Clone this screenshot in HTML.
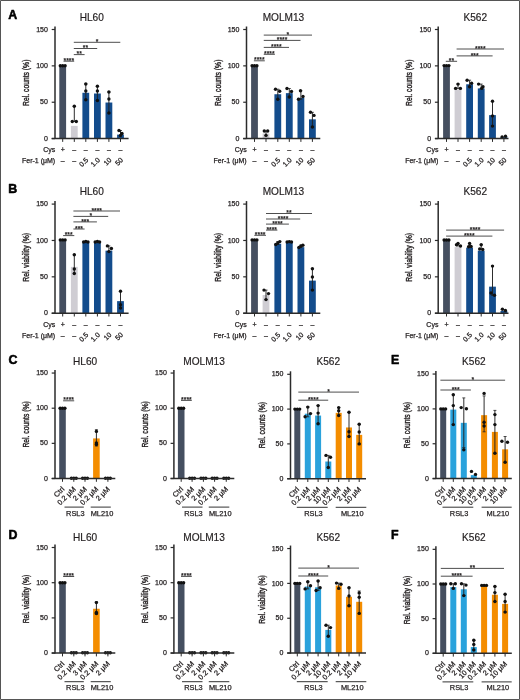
<!DOCTYPE html><html><head><meta charset="utf-8"><style>html,body{margin:0;padding:0;background:#fff;}svg{display:block;will-change:transform;} text{stroke:#231f20;stroke-width:0.25px;} text.t{stroke-width:0.18px;} text.yl{stroke-width:0.4px;} text.L{stroke:#000;stroke-width:0.55px;}</style></head><body>
<svg width="520" height="700" viewBox="0 0 520 700" font-family="Liberation Sans, sans-serif" stroke-linejoin="round">
<rect x="0" y="0" width="520" height="700" fill="#fff"/>
<line x1="55" y1="26.5" x2="55" y2="139" stroke="#2b2b2b" stroke-width="1.5"/>
<line x1="51.7" y1="138.6" x2="55" y2="138.6" stroke="#2b2b2b" stroke-width="1.2"/>
<text x="47.9" y="140.7" font-size="7" text-anchor="end" font-weight="normal" fill="#231f20"  >0</text>
<line x1="51.7" y1="102.23" x2="55" y2="102.23" stroke="#2b2b2b" stroke-width="1.2"/>
<text x="47.9" y="104.33" font-size="7" text-anchor="end" font-weight="normal" fill="#231f20"  >50</text>
<line x1="51.7" y1="65.87" x2="55" y2="65.87" stroke="#2b2b2b" stroke-width="1.2"/>
<text x="47.9" y="67.97" font-size="7" text-anchor="end" font-weight="normal" fill="#231f20"  >100</text>
<line x1="51.7" y1="29.5" x2="55" y2="29.5" stroke="#2b2b2b" stroke-width="1.2"/>
<text x="47.9" y="31.6" font-size="7" text-anchor="end" font-weight="normal" fill="#231f20"  >150</text>
<text x="0" y="0" font-size="8.6" class="yl" text-anchor="middle" fill="#231f20" textLength="46.3" lengthAdjust="spacingAndGlyphs" transform="translate(29.2,82.75) rotate(-90)">Rel. counts (%)</text>
<text x="91.8" y="20.6" font-size="10.1" text-anchor="middle" font-weight="normal" fill="#231f20"  class="t">HL60</text>
<rect x="59.3" y="65.87" width="6.8" height="72.73" fill="#454f60"/>
<rect x="70.9" y="125.87" width="6.8" height="12.73" fill="#cfcdd3"/>
<rect x="82.4" y="92.78" width="6.8" height="45.82" fill="#134c8c"/>
<rect x="94" y="93.51" width="6.8" height="45.09" fill="#134c8c"/>
<rect x="105.5" y="102.53" width="6.8" height="36.07" fill="#134c8c"/>
<rect x="117.1" y="134.6" width="6.8" height="4" fill="#134c8c"/>
<circle cx="60.3" cy="65.7" r="1.7" fill="#111"/>
<circle cx="62.7" cy="65.7" r="1.7" fill="#111"/>
<circle cx="65.1" cy="65.7" r="1.7" fill="#111"/>
<line x1="74.3" y1="106.2" x2="74.3" y2="121.5" stroke="#222" stroke-width="0.95"/>
<line x1="72.8" y1="106.2" x2="75.8" y2="106.2" stroke="#222" stroke-width="0.8"/>
<line x1="72.8" y1="121.5" x2="75.8" y2="121.5" stroke="#222" stroke-width="0.8"/>
<circle cx="74.3" cy="106.2" r="1.7" fill="#111"/>
<circle cx="72.3" cy="121.5" r="1.7" fill="#111"/>
<circle cx="76.3" cy="121.5" r="1.7" fill="#111"/>
<line x1="85.8" y1="84" x2="85.8" y2="99.7" stroke="#222" stroke-width="0.95"/>
<line x1="84.3" y1="84" x2="87.3" y2="84" stroke="#222" stroke-width="0.8"/>
<line x1="84.3" y1="99.7" x2="87.3" y2="99.7" stroke="#222" stroke-width="0.8"/>
<circle cx="85.8" cy="84" r="1.7" fill="#111"/>
<circle cx="85.8" cy="91" r="1.7" fill="#111"/>
<circle cx="85.8" cy="99.7" r="1.7" fill="#111"/>
<line x1="97.4" y1="86.2" x2="97.4" y2="100.5" stroke="#222" stroke-width="0.95"/>
<line x1="95.9" y1="86.2" x2="98.9" y2="86.2" stroke="#222" stroke-width="0.8"/>
<line x1="95.9" y1="100.5" x2="98.9" y2="100.5" stroke="#222" stroke-width="0.8"/>
<circle cx="97.4" cy="86.2" r="1.7" fill="#111"/>
<circle cx="97.4" cy="91" r="1.7" fill="#111"/>
<circle cx="97.4" cy="100.5" r="1.7" fill="#111"/>
<line x1="108.9" y1="92" x2="108.9" y2="113" stroke="#222" stroke-width="0.95"/>
<line x1="107.4" y1="92" x2="110.4" y2="92" stroke="#222" stroke-width="0.8"/>
<line x1="107.4" y1="113" x2="110.4" y2="113" stroke="#222" stroke-width="0.8"/>
<circle cx="108.9" cy="92" r="1.7" fill="#111"/>
<circle cx="108.9" cy="99" r="1.7" fill="#111"/>
<circle cx="108.9" cy="113" r="1.7" fill="#111"/>
<line x1="120.5" y1="130.5" x2="120.5" y2="135.5" stroke="#222" stroke-width="0.95"/>
<line x1="119" y1="130.5" x2="122" y2="130.5" stroke="#222" stroke-width="0.8"/>
<line x1="119" y1="135.5" x2="122" y2="135.5" stroke="#222" stroke-width="0.8"/>
<circle cx="119" cy="130.5" r="1.7" fill="#111"/>
<circle cx="122" cy="133.5" r="1.7" fill="#111"/>
<circle cx="120.5" cy="135.5" r="1.7" fill="#111"/>
<line x1="51.7" y1="138.6" x2="128.6" y2="138.6" stroke="#2b2b2b" stroke-width="1.5"/>
<line x1="62.7" y1="138.6" x2="62.7" y2="141.9" stroke="#2b2b2b" stroke-width="1"/>
<line x1="74.3" y1="138.6" x2="74.3" y2="141.9" stroke="#2b2b2b" stroke-width="1"/>
<line x1="85.8" y1="138.6" x2="85.8" y2="141.9" stroke="#2b2b2b" stroke-width="1"/>
<line x1="97.4" y1="138.6" x2="97.4" y2="141.9" stroke="#2b2b2b" stroke-width="1"/>
<line x1="108.9" y1="138.6" x2="108.9" y2="141.9" stroke="#2b2b2b" stroke-width="1"/>
<line x1="120.5" y1="138.6" x2="120.5" y2="141.9" stroke="#2b2b2b" stroke-width="1"/>
<line x1="63.5" y1="61.2" x2="74.2" y2="61.2" stroke="#3a3a3a" stroke-width="0.9"/>
<text x="68.85" y="62.8" font-size="6.8" text-anchor="middle" font-weight="normal" fill="#333"  >****</text>
<line x1="73.8" y1="54.6" x2="84.6" y2="54.6" stroke="#3a3a3a" stroke-width="0.9"/>
<text x="79.2" y="56.2" font-size="6.8" text-anchor="middle" font-weight="normal" fill="#333"  >**</text>
<line x1="73.8" y1="48.5" x2="97.2" y2="48.5" stroke="#3a3a3a" stroke-width="0.9"/>
<text x="85.5" y="50.1" font-size="6.8" text-anchor="middle" font-weight="normal" fill="#333"  >**</text>
<line x1="73.8" y1="42.3" x2="120.3" y2="42.3" stroke="#3a3a3a" stroke-width="0.9"/>
<text x="97.05" y="43.9" font-size="6.8" text-anchor="middle" font-weight="normal" fill="#333"  >*</text>
<text x="55.2" y="151.8" font-size="7" text-anchor="end" font-weight="normal" fill="#231f20"  >Cys</text>
<text x="55.2" y="162.8" font-size="7" text-anchor="end" font-weight="normal" fill="#231f20"  >Fer-1 (μM)</text>
<text x="62.7" y="151.8" font-size="7" text-anchor="middle" font-weight="normal" fill="#231f20"  >+</text>
<text x="74.3" y="152.3" font-size="7" text-anchor="middle" font-weight="normal" fill="#231f20"  >–</text>
<text x="85.8" y="152.3" font-size="7" text-anchor="middle" font-weight="normal" fill="#231f20"  >–</text>
<text x="97.4" y="152.3" font-size="7" text-anchor="middle" font-weight="normal" fill="#231f20"  >–</text>
<text x="108.9" y="152.3" font-size="7" text-anchor="middle" font-weight="normal" fill="#231f20"  >–</text>
<text x="120.5" y="152.3" font-size="7" text-anchor="middle" font-weight="normal" fill="#231f20"  >–</text>
<text x="62.7" y="163.3" font-size="7" text-anchor="middle" font-weight="normal" fill="#231f20"  >–</text>
<text x="74.3" y="163.3" font-size="7" text-anchor="middle" font-weight="normal" fill="#231f20"  >–</text>
<text x="0" y="0" font-size="7" text-anchor="end" fill="#231f20" transform="translate(88.8,160.4) rotate(-45)">0.5</text>
<text x="0" y="0" font-size="7" text-anchor="end" fill="#231f20" transform="translate(100.4,160.4) rotate(-45)">1.0</text>
<text x="0" y="0" font-size="7" text-anchor="end" fill="#231f20" transform="translate(111.9,160.4) rotate(-45)">10</text>
<text x="0" y="0" font-size="7" text-anchor="end" fill="#231f20" transform="translate(123.5,160.4) rotate(-45)">50</text>
<line x1="246.5" y1="26.5" x2="246.5" y2="139" stroke="#2b2b2b" stroke-width="1.5"/>
<line x1="243.2" y1="138.6" x2="246.5" y2="138.6" stroke="#2b2b2b" stroke-width="1.2"/>
<text x="239.4" y="140.7" font-size="7" text-anchor="end" font-weight="normal" fill="#231f20"  >0</text>
<line x1="243.2" y1="102.23" x2="246.5" y2="102.23" stroke="#2b2b2b" stroke-width="1.2"/>
<text x="239.4" y="104.33" font-size="7" text-anchor="end" font-weight="normal" fill="#231f20"  >50</text>
<line x1="243.2" y1="65.87" x2="246.5" y2="65.87" stroke="#2b2b2b" stroke-width="1.2"/>
<text x="239.4" y="67.97" font-size="7" text-anchor="end" font-weight="normal" fill="#231f20"  >100</text>
<line x1="243.2" y1="29.5" x2="246.5" y2="29.5" stroke="#2b2b2b" stroke-width="1.2"/>
<text x="239.4" y="31.6" font-size="7" text-anchor="end" font-weight="normal" fill="#231f20"  >150</text>
<text x="0" y="0" font-size="8.6" class="yl" text-anchor="middle" fill="#231f20" textLength="46.3" lengthAdjust="spacingAndGlyphs" transform="translate(220.7,82.75) rotate(-90)">Rel. counts (%)</text>
<text x="283.4" y="20.6" font-size="10.1" text-anchor="middle" font-weight="normal" fill="#231f20"  class="t">MOLM13</text>
<rect x="251.1" y="65.87" width="6.8" height="72.73" fill="#454f60"/>
<rect x="262.6" y="133.51" width="6.8" height="5.09" fill="#cfcdd3"/>
<rect x="274.4" y="94.23" width="6.8" height="44.37" fill="#134c8c"/>
<rect x="285.9" y="93.14" width="6.8" height="45.46" fill="#134c8c"/>
<rect x="297.5" y="97.87" width="6.8" height="40.73" fill="#134c8c"/>
<rect x="309" y="119.33" width="6.8" height="19.27" fill="#134c8c"/>
<circle cx="252.1" cy="65.8" r="1.7" fill="#111"/>
<circle cx="254.5" cy="65.8" r="1.7" fill="#111"/>
<circle cx="256.9" cy="65.8" r="1.7" fill="#111"/>
<line x1="266" y1="131" x2="266" y2="135.4" stroke="#222" stroke-width="0.95"/>
<line x1="264.5" y1="131" x2="267.5" y2="131" stroke="#222" stroke-width="0.8"/>
<line x1="264.5" y1="135.4" x2="267.5" y2="135.4" stroke="#222" stroke-width="0.8"/>
<circle cx="264.3" cy="131" r="1.7" fill="#111"/>
<circle cx="267.7" cy="131" r="1.7" fill="#111"/>
<circle cx="266" cy="135.4" r="1.7" fill="#111"/>
<line x1="277.8" y1="89.2" x2="277.8" y2="99.2" stroke="#222" stroke-width="0.95"/>
<line x1="276.3" y1="89.2" x2="279.3" y2="89.2" stroke="#222" stroke-width="0.8"/>
<line x1="276.3" y1="99.2" x2="279.3" y2="99.2" stroke="#222" stroke-width="0.8"/>
<circle cx="275.5" cy="89.2" r="1.7" fill="#111"/>
<circle cx="279.7" cy="91.2" r="1.7" fill="#111"/>
<circle cx="277.8" cy="99.2" r="1.7" fill="#111"/>
<line x1="289.3" y1="88.5" x2="289.3" y2="97" stroke="#222" stroke-width="0.95"/>
<line x1="287.8" y1="88.5" x2="290.8" y2="88.5" stroke="#222" stroke-width="0.8"/>
<line x1="287.8" y1="97" x2="290.8" y2="97" stroke="#222" stroke-width="0.8"/>
<circle cx="287" cy="88.5" r="1.7" fill="#111"/>
<circle cx="291.5" cy="91.5" r="1.7" fill="#111"/>
<circle cx="289.3" cy="97" r="1.7" fill="#111"/>
<line x1="300.9" y1="90.8" x2="300.9" y2="99.2" stroke="#222" stroke-width="0.95"/>
<line x1="299.4" y1="90.8" x2="302.4" y2="90.8" stroke="#222" stroke-width="0.8"/>
<line x1="299.4" y1="99.2" x2="302.4" y2="99.2" stroke="#222" stroke-width="0.8"/>
<circle cx="300.5" cy="90.8" r="1.7" fill="#111"/>
<circle cx="303" cy="96.5" r="1.7" fill="#111"/>
<circle cx="298.5" cy="99.2" r="1.7" fill="#111"/>
<line x1="312.4" y1="112.3" x2="312.4" y2="127" stroke="#222" stroke-width="0.95"/>
<line x1="310.9" y1="112.3" x2="313.9" y2="112.3" stroke="#222" stroke-width="0.8"/>
<line x1="310.9" y1="127" x2="313.9" y2="127" stroke="#222" stroke-width="0.8"/>
<circle cx="310.5" cy="112.3" r="1.7" fill="#111"/>
<circle cx="314" cy="115.4" r="1.7" fill="#111"/>
<circle cx="312.4" cy="127" r="1.7" fill="#111"/>
<line x1="243.2" y1="138.6" x2="320.3" y2="138.6" stroke="#2b2b2b" stroke-width="1.5"/>
<line x1="254.5" y1="138.6" x2="254.5" y2="141.9" stroke="#2b2b2b" stroke-width="1"/>
<line x1="266" y1="138.6" x2="266" y2="141.9" stroke="#2b2b2b" stroke-width="1"/>
<line x1="277.8" y1="138.6" x2="277.8" y2="141.9" stroke="#2b2b2b" stroke-width="1"/>
<line x1="289.3" y1="138.6" x2="289.3" y2="141.9" stroke="#2b2b2b" stroke-width="1"/>
<line x1="300.9" y1="138.6" x2="300.9" y2="141.9" stroke="#2b2b2b" stroke-width="1"/>
<line x1="312.4" y1="138.6" x2="312.4" y2="141.9" stroke="#2b2b2b" stroke-width="1"/>
<line x1="253.9" y1="60.8" x2="264.8" y2="60.8" stroke="#3a3a3a" stroke-width="0.9"/>
<text x="259.35" y="62.4" font-size="6.8" text-anchor="middle" font-weight="normal" fill="#333"  >****</text>
<line x1="263.75" y1="54.3" x2="274.9" y2="54.3" stroke="#3a3a3a" stroke-width="0.9"/>
<text x="269.32" y="55.9" font-size="6.8" text-anchor="middle" font-weight="normal" fill="#333"  >****</text>
<line x1="263.75" y1="47.4" x2="289" y2="47.4" stroke="#3a3a3a" stroke-width="0.9"/>
<text x="276.38" y="49" font-size="6.8" text-anchor="middle" font-weight="normal" fill="#333"  >****</text>
<line x1="263.75" y1="40.4" x2="300.5" y2="40.4" stroke="#3a3a3a" stroke-width="0.9"/>
<text x="282.12" y="42" font-size="6.8" text-anchor="middle" font-weight="normal" fill="#333"  >****</text>
<line x1="263.75" y1="35.1" x2="312" y2="35.1" stroke="#3a3a3a" stroke-width="0.9"/>
<text x="287.88" y="36.7" font-size="6.8" text-anchor="middle" font-weight="normal" fill="#333"  >*</text>
<text x="246.7" y="151.8" font-size="7" text-anchor="end" font-weight="normal" fill="#231f20"  >Cys</text>
<text x="246.7" y="162.8" font-size="7" text-anchor="end" font-weight="normal" fill="#231f20"  >Fer-1 (μM)</text>
<text x="254.5" y="151.8" font-size="7" text-anchor="middle" font-weight="normal" fill="#231f20"  >+</text>
<text x="266" y="152.3" font-size="7" text-anchor="middle" font-weight="normal" fill="#231f20"  >–</text>
<text x="277.8" y="152.3" font-size="7" text-anchor="middle" font-weight="normal" fill="#231f20"  >–</text>
<text x="289.3" y="152.3" font-size="7" text-anchor="middle" font-weight="normal" fill="#231f20"  >–</text>
<text x="300.9" y="152.3" font-size="7" text-anchor="middle" font-weight="normal" fill="#231f20"  >–</text>
<text x="312.4" y="152.3" font-size="7" text-anchor="middle" font-weight="normal" fill="#231f20"  >–</text>
<text x="254.5" y="163.3" font-size="7" text-anchor="middle" font-weight="normal" fill="#231f20"  >–</text>
<text x="266" y="163.3" font-size="7" text-anchor="middle" font-weight="normal" fill="#231f20"  >–</text>
<text x="0" y="0" font-size="7" text-anchor="end" fill="#231f20" transform="translate(280.8,160.4) rotate(-45)">0.5</text>
<text x="0" y="0" font-size="7" text-anchor="end" fill="#231f20" transform="translate(292.3,160.4) rotate(-45)">1.0</text>
<text x="0" y="0" font-size="7" text-anchor="end" fill="#231f20" transform="translate(303.9,160.4) rotate(-45)">10</text>
<text x="0" y="0" font-size="7" text-anchor="end" fill="#231f20" transform="translate(315.4,160.4) rotate(-45)">50</text>
<line x1="438.2" y1="26.5" x2="438.2" y2="139" stroke="#2b2b2b" stroke-width="1.5"/>
<line x1="434.9" y1="138.6" x2="438.2" y2="138.6" stroke="#2b2b2b" stroke-width="1.2"/>
<text x="431.1" y="140.7" font-size="7" text-anchor="end" font-weight="normal" fill="#231f20"  >0</text>
<line x1="434.9" y1="102.23" x2="438.2" y2="102.23" stroke="#2b2b2b" stroke-width="1.2"/>
<text x="431.1" y="104.33" font-size="7" text-anchor="end" font-weight="normal" fill="#231f20"  >50</text>
<line x1="434.9" y1="65.87" x2="438.2" y2="65.87" stroke="#2b2b2b" stroke-width="1.2"/>
<text x="431.1" y="67.97" font-size="7" text-anchor="end" font-weight="normal" fill="#231f20"  >100</text>
<line x1="434.9" y1="29.5" x2="438.2" y2="29.5" stroke="#2b2b2b" stroke-width="1.2"/>
<text x="431.1" y="31.6" font-size="7" text-anchor="end" font-weight="normal" fill="#231f20"  >150</text>
<text x="0" y="0" font-size="8.6" class="yl" text-anchor="middle" fill="#231f20" textLength="46.3" lengthAdjust="spacingAndGlyphs" transform="translate(412.4,82.75) rotate(-90)">Rel. counts (%)</text>
<text x="475.3" y="20.6" font-size="10.1" text-anchor="middle" font-weight="normal" fill="#231f20"  class="t">K562</text>
<rect x="443.1" y="65.87" width="6.8" height="72.73" fill="#454f60"/>
<rect x="454.6" y="89.43" width="6.8" height="49.17" fill="#cfcdd3"/>
<rect x="466.2" y="84.27" width="6.8" height="54.33" fill="#134c8c"/>
<rect x="477.8" y="88.42" width="6.8" height="50.18" fill="#134c8c"/>
<rect x="489.1" y="115.11" width="6.8" height="23.49" fill="#134c8c"/>
<rect x="500.5" y="137.15" width="6.8" height="1.45" fill="#134c8c"/>
<circle cx="444.1" cy="65.6" r="1.7" fill="#111"/>
<circle cx="446.5" cy="65.6" r="1.7" fill="#111"/>
<circle cx="448.9" cy="65.6" r="1.7" fill="#111"/>
<line x1="458" y1="84.1" x2="458" y2="88.4" stroke="#222" stroke-width="0.95"/>
<line x1="456.5" y1="84.1" x2="459.5" y2="84.1" stroke="#222" stroke-width="0.8"/>
<line x1="456.5" y1="88.4" x2="459.5" y2="88.4" stroke="#222" stroke-width="0.8"/>
<circle cx="458" cy="84.1" r="1.7" fill="#111"/>
<circle cx="455.6" cy="88.4" r="1.7" fill="#111"/>
<circle cx="460.4" cy="88.4" r="1.7" fill="#111"/>
<line x1="469.6" y1="80.2" x2="469.6" y2="86.7" stroke="#222" stroke-width="0.95"/>
<line x1="468.1" y1="80.2" x2="471.1" y2="80.2" stroke="#222" stroke-width="0.8"/>
<line x1="468.1" y1="86.7" x2="471.1" y2="86.7" stroke="#222" stroke-width="0.8"/>
<circle cx="467.1" cy="80.2" r="1.7" fill="#111"/>
<circle cx="471.6" cy="83.3" r="1.7" fill="#111"/>
<circle cx="469.6" cy="86.7" r="1.7" fill="#111"/>
<line x1="481.2" y1="84.1" x2="481.2" y2="88.4" stroke="#222" stroke-width="0.95"/>
<line x1="479.7" y1="84.1" x2="482.7" y2="84.1" stroke="#222" stroke-width="0.8"/>
<line x1="479.7" y1="88.4" x2="482.7" y2="88.4" stroke="#222" stroke-width="0.8"/>
<circle cx="478.6" cy="84.1" r="1.7" fill="#111"/>
<circle cx="483" cy="86.7" r="1.7" fill="#111"/>
<circle cx="481.7" cy="88.4" r="1.7" fill="#111"/>
<line x1="492.5" y1="101.3" x2="492.5" y2="126.1" stroke="#222" stroke-width="0.95"/>
<line x1="491" y1="101.3" x2="494" y2="101.3" stroke="#222" stroke-width="0.8"/>
<line x1="491" y1="126.1" x2="494" y2="126.1" stroke="#222" stroke-width="0.8"/>
<circle cx="492.5" cy="101.3" r="1.7" fill="#111"/>
<circle cx="492.5" cy="115.9" r="1.7" fill="#111"/>
<circle cx="492.5" cy="126.1" r="1.7" fill="#111"/>
<circle cx="502.1" cy="137" r="1.7" fill="#111"/>
<circle cx="505.5" cy="136.3" r="1.7" fill="#111"/>
<line x1="434.9" y1="138.6" x2="508.5" y2="138.6" stroke="#2b2b2b" stroke-width="1.5"/>
<line x1="446.5" y1="138.6" x2="446.5" y2="141.9" stroke="#2b2b2b" stroke-width="1"/>
<line x1="458" y1="138.6" x2="458" y2="141.9" stroke="#2b2b2b" stroke-width="1"/>
<line x1="469.6" y1="138.6" x2="469.6" y2="141.9" stroke="#2b2b2b" stroke-width="1"/>
<line x1="481.2" y1="138.6" x2="481.2" y2="141.9" stroke="#2b2b2b" stroke-width="1"/>
<line x1="492.5" y1="138.6" x2="492.5" y2="141.9" stroke="#2b2b2b" stroke-width="1"/>
<line x1="503.9" y1="138.6" x2="503.9" y2="141.9" stroke="#2b2b2b" stroke-width="1"/>
<line x1="445.8" y1="61.3" x2="457.1" y2="61.3" stroke="#3a3a3a" stroke-width="0.9"/>
<text x="451.45" y="62.9" font-size="6.8" text-anchor="middle" font-weight="normal" fill="#333"  >**</text>
<line x1="456.6" y1="55.9" x2="492.6" y2="55.9" stroke="#3a3a3a" stroke-width="0.9"/>
<text x="474.6" y="57.5" font-size="6.8" text-anchor="middle" font-weight="normal" fill="#333"  >***</text>
<line x1="456.6" y1="49" x2="504" y2="49" stroke="#3a3a3a" stroke-width="0.9"/>
<text x="480.3" y="50.6" font-size="6.8" text-anchor="middle" font-weight="normal" fill="#333"  >****</text>
<text x="438.4" y="151.8" font-size="7" text-anchor="end" font-weight="normal" fill="#231f20"  >Cys</text>
<text x="438.4" y="162.8" font-size="7" text-anchor="end" font-weight="normal" fill="#231f20"  >Fer-1 (μM)</text>
<text x="446.5" y="151.8" font-size="7" text-anchor="middle" font-weight="normal" fill="#231f20"  >+</text>
<text x="458" y="152.3" font-size="7" text-anchor="middle" font-weight="normal" fill="#231f20"  >–</text>
<text x="469.6" y="152.3" font-size="7" text-anchor="middle" font-weight="normal" fill="#231f20"  >–</text>
<text x="481.2" y="152.3" font-size="7" text-anchor="middle" font-weight="normal" fill="#231f20"  >–</text>
<text x="492.5" y="152.3" font-size="7" text-anchor="middle" font-weight="normal" fill="#231f20"  >–</text>
<text x="503.9" y="152.3" font-size="7" text-anchor="middle" font-weight="normal" fill="#231f20"  >–</text>
<text x="446.5" y="163.3" font-size="7" text-anchor="middle" font-weight="normal" fill="#231f20"  >–</text>
<text x="458" y="163.3" font-size="7" text-anchor="middle" font-weight="normal" fill="#231f20"  >–</text>
<text x="0" y="0" font-size="7" text-anchor="end" fill="#231f20" transform="translate(472.6,160.4) rotate(-45)">0.5</text>
<text x="0" y="0" font-size="7" text-anchor="end" fill="#231f20" transform="translate(484.2,160.4) rotate(-45)">1.0</text>
<text x="0" y="0" font-size="7" text-anchor="end" fill="#231f20" transform="translate(495.5,160.4) rotate(-45)">10</text>
<text x="0" y="0" font-size="7" text-anchor="end" fill="#231f20" transform="translate(506.9,160.4) rotate(-45)">50</text>
<line x1="55" y1="201.1" x2="55" y2="313.6" stroke="#2b2b2b" stroke-width="1.5"/>
<line x1="51.7" y1="313.2" x2="55" y2="313.2" stroke="#2b2b2b" stroke-width="1.2"/>
<text x="47.9" y="315.3" font-size="7" text-anchor="end" font-weight="normal" fill="#231f20"  >0</text>
<line x1="51.7" y1="276.83" x2="55" y2="276.83" stroke="#2b2b2b" stroke-width="1.2"/>
<text x="47.9" y="278.94" font-size="7" text-anchor="end" font-weight="normal" fill="#231f20"  >50</text>
<line x1="51.7" y1="240.47" x2="55" y2="240.47" stroke="#2b2b2b" stroke-width="1.2"/>
<text x="47.9" y="242.57" font-size="7" text-anchor="end" font-weight="normal" fill="#231f20"  >100</text>
<line x1="51.7" y1="204.1" x2="55" y2="204.1" stroke="#2b2b2b" stroke-width="1.2"/>
<text x="47.9" y="206.2" font-size="7" text-anchor="end" font-weight="normal" fill="#231f20"  >150</text>
<text x="0" y="0" font-size="8.6" class="yl" text-anchor="middle" fill="#231f20" textLength="48.6" lengthAdjust="spacingAndGlyphs" transform="translate(29.2,257.35) rotate(-90)">Rel. viability (%)</text>
<text x="91.8" y="194.6" font-size="10.1" text-anchor="middle" font-weight="normal" fill="#231f20"  class="t">HL60</text>
<rect x="59.3" y="240.47" width="6.8" height="72.73" fill="#454f60"/>
<rect x="70.9" y="266.87" width="6.8" height="46.33" fill="#cfcdd3"/>
<rect x="82.4" y="242.87" width="6.8" height="70.33" fill="#134c8c"/>
<rect x="94" y="242.87" width="6.8" height="70.33" fill="#134c8c"/>
<rect x="105.5" y="250.65" width="6.8" height="62.55" fill="#134c8c"/>
<rect x="117.1" y="301.13" width="6.8" height="12.07" fill="#134c8c"/>
<circle cx="60.3" cy="239.9" r="1.7" fill="#111"/>
<circle cx="62.7" cy="239.9" r="1.7" fill="#111"/>
<circle cx="65.1" cy="239.9" r="1.7" fill="#111"/>
<line x1="74.3" y1="254.7" x2="74.3" y2="273.5" stroke="#222" stroke-width="0.95"/>
<line x1="72.8" y1="254.7" x2="75.8" y2="254.7" stroke="#222" stroke-width="0.8"/>
<line x1="72.8" y1="273.5" x2="75.8" y2="273.5" stroke="#222" stroke-width="0.8"/>
<circle cx="74.3" cy="254.7" r="1.7" fill="#111"/>
<circle cx="74.3" cy="269" r="1.7" fill="#111"/>
<circle cx="74.3" cy="273.5" r="1.7" fill="#111"/>
<circle cx="83.6" cy="242" r="1.7" fill="#111"/>
<circle cx="85.8" cy="241.5" r="1.7" fill="#111"/>
<circle cx="88" cy="242" r="1.7" fill="#111"/>
<circle cx="95.2" cy="242" r="1.7" fill="#111"/>
<circle cx="97.4" cy="241.5" r="1.7" fill="#111"/>
<circle cx="99.6" cy="242" r="1.7" fill="#111"/>
<line x1="108.9" y1="245.9" x2="108.9" y2="251.6" stroke="#222" stroke-width="0.95"/>
<line x1="107.4" y1="245.9" x2="110.4" y2="245.9" stroke="#222" stroke-width="0.8"/>
<line x1="107.4" y1="251.6" x2="110.4" y2="251.6" stroke="#222" stroke-width="0.8"/>
<circle cx="107.4" cy="245.9" r="1.7" fill="#111"/>
<circle cx="111.4" cy="248.5" r="1.7" fill="#111"/>
<circle cx="108.9" cy="251.6" r="1.7" fill="#111"/>
<line x1="120.5" y1="291.3" x2="120.5" y2="308" stroke="#222" stroke-width="0.95"/>
<line x1="119" y1="291.3" x2="122" y2="291.3" stroke="#222" stroke-width="0.8"/>
<line x1="119" y1="308" x2="122" y2="308" stroke="#222" stroke-width="0.8"/>
<circle cx="120.5" cy="291.3" r="1.7" fill="#111"/>
<circle cx="120.5" cy="304.7" r="1.7" fill="#111"/>
<circle cx="120.5" cy="308" r="1.7" fill="#111"/>
<line x1="51.7" y1="313.2" x2="128.6" y2="313.2" stroke="#2b2b2b" stroke-width="1.5"/>
<line x1="62.7" y1="313.2" x2="62.7" y2="316.5" stroke="#2b2b2b" stroke-width="1"/>
<line x1="74.3" y1="313.2" x2="74.3" y2="316.5" stroke="#2b2b2b" stroke-width="1"/>
<line x1="85.8" y1="313.2" x2="85.8" y2="316.5" stroke="#2b2b2b" stroke-width="1"/>
<line x1="97.4" y1="313.2" x2="97.4" y2="316.5" stroke="#2b2b2b" stroke-width="1"/>
<line x1="108.9" y1="313.2" x2="108.9" y2="316.5" stroke="#2b2b2b" stroke-width="1"/>
<line x1="120.5" y1="313.2" x2="120.5" y2="316.5" stroke="#2b2b2b" stroke-width="1"/>
<line x1="63.1" y1="235.6" x2="74.3" y2="235.6" stroke="#3a3a3a" stroke-width="0.9"/>
<text x="68.7" y="237.2" font-size="6.8" text-anchor="middle" font-weight="normal" fill="#333"  >***</text>
<line x1="73.4" y1="229" x2="84.6" y2="229" stroke="#3a3a3a" stroke-width="0.9"/>
<text x="79" y="230.6" font-size="6.8" text-anchor="middle" font-weight="normal" fill="#333"  >***</text>
<line x1="73.4" y1="221.9" x2="96.9" y2="221.9" stroke="#3a3a3a" stroke-width="0.9"/>
<text x="85.15" y="223.5" font-size="6.8" text-anchor="middle" font-weight="normal" fill="#333"  >***</text>
<line x1="73.4" y1="216.4" x2="108.2" y2="216.4" stroke="#3a3a3a" stroke-width="0.9"/>
<text x="90.8" y="218" font-size="6.8" text-anchor="middle" font-weight="normal" fill="#333"  >*</text>
<line x1="73.4" y1="211" x2="120" y2="211" stroke="#3a3a3a" stroke-width="0.9"/>
<text x="96.7" y="212.6" font-size="6.8" text-anchor="middle" font-weight="normal" fill="#333"  >****</text>
<text x="55.2" y="326.7" font-size="7" text-anchor="end" font-weight="normal" fill="#231f20"  >Cys</text>
<text x="55.2" y="337.7" font-size="7" text-anchor="end" font-weight="normal" fill="#231f20"  >Fer-1 (μM)</text>
<text x="62.7" y="326.7" font-size="7" text-anchor="middle" font-weight="normal" fill="#231f20"  >+</text>
<text x="74.3" y="327.2" font-size="7" text-anchor="middle" font-weight="normal" fill="#231f20"  >–</text>
<text x="85.8" y="327.2" font-size="7" text-anchor="middle" font-weight="normal" fill="#231f20"  >–</text>
<text x="97.4" y="327.2" font-size="7" text-anchor="middle" font-weight="normal" fill="#231f20"  >–</text>
<text x="108.9" y="327.2" font-size="7" text-anchor="middle" font-weight="normal" fill="#231f20"  >–</text>
<text x="120.5" y="327.2" font-size="7" text-anchor="middle" font-weight="normal" fill="#231f20"  >–</text>
<text x="62.7" y="338.2" font-size="7" text-anchor="middle" font-weight="normal" fill="#231f20"  >–</text>
<text x="74.3" y="338.2" font-size="7" text-anchor="middle" font-weight="normal" fill="#231f20"  >–</text>
<text x="0" y="0" font-size="7" text-anchor="end" fill="#231f20" transform="translate(88.8,335.3) rotate(-45)">0.5</text>
<text x="0" y="0" font-size="7" text-anchor="end" fill="#231f20" transform="translate(100.4,335.3) rotate(-45)">1.0</text>
<text x="0" y="0" font-size="7" text-anchor="end" fill="#231f20" transform="translate(111.9,335.3) rotate(-45)">10</text>
<text x="0" y="0" font-size="7" text-anchor="end" fill="#231f20" transform="translate(123.5,335.3) rotate(-45)">50</text>
<line x1="246.5" y1="201.1" x2="246.5" y2="313.6" stroke="#2b2b2b" stroke-width="1.5"/>
<line x1="243.2" y1="313.2" x2="246.5" y2="313.2" stroke="#2b2b2b" stroke-width="1.2"/>
<text x="239.4" y="315.3" font-size="7" text-anchor="end" font-weight="normal" fill="#231f20"  >0</text>
<line x1="243.2" y1="276.83" x2="246.5" y2="276.83" stroke="#2b2b2b" stroke-width="1.2"/>
<text x="239.4" y="278.94" font-size="7" text-anchor="end" font-weight="normal" fill="#231f20"  >50</text>
<line x1="243.2" y1="240.47" x2="246.5" y2="240.47" stroke="#2b2b2b" stroke-width="1.2"/>
<text x="239.4" y="242.57" font-size="7" text-anchor="end" font-weight="normal" fill="#231f20"  >100</text>
<line x1="243.2" y1="204.1" x2="246.5" y2="204.1" stroke="#2b2b2b" stroke-width="1.2"/>
<text x="239.4" y="206.2" font-size="7" text-anchor="end" font-weight="normal" fill="#231f20"  >150</text>
<text x="0" y="0" font-size="8.6" class="yl" text-anchor="middle" fill="#231f20" textLength="48.6" lengthAdjust="spacingAndGlyphs" transform="translate(220.7,257.35) rotate(-90)">Rel. viability (%)</text>
<text x="283.4" y="194.6" font-size="10.1" text-anchor="middle" font-weight="normal" fill="#231f20"  class="t">MOLM13</text>
<rect x="251.1" y="240.47" width="6.8" height="72.73" fill="#454f60"/>
<rect x="262.6" y="295.02" width="6.8" height="18.18" fill="#cfcdd3"/>
<rect x="274.4" y="243.74" width="6.8" height="69.46" fill="#134c8c"/>
<rect x="285.9" y="242.87" width="6.8" height="70.33" fill="#134c8c"/>
<rect x="297.5" y="247.16" width="6.8" height="66.04" fill="#134c8c"/>
<rect x="309" y="280.62" width="6.8" height="32.58" fill="#134c8c"/>
<circle cx="252.1" cy="239.9" r="1.7" fill="#111"/>
<circle cx="254.5" cy="239.9" r="1.7" fill="#111"/>
<circle cx="256.9" cy="239.9" r="1.7" fill="#111"/>
<line x1="266" y1="290.1" x2="266" y2="299.6" stroke="#222" stroke-width="0.95"/>
<line x1="264.5" y1="290.1" x2="267.5" y2="290.1" stroke="#222" stroke-width="0.8"/>
<line x1="264.5" y1="299.6" x2="267.5" y2="299.6" stroke="#222" stroke-width="0.8"/>
<circle cx="264" cy="290.1" r="1.7" fill="#111"/>
<circle cx="268.5" cy="293.6" r="1.7" fill="#111"/>
<circle cx="266" cy="299.6" r="1.7" fill="#111"/>
<line x1="277.8" y1="241.6" x2="277.8" y2="244.5" stroke="#222" stroke-width="0.95"/>
<line x1="276.3" y1="241.6" x2="279.3" y2="241.6" stroke="#222" stroke-width="0.8"/>
<line x1="276.3" y1="244.5" x2="279.3" y2="244.5" stroke="#222" stroke-width="0.8"/>
<circle cx="275.8" cy="244.5" r="1.7" fill="#111"/>
<circle cx="279.8" cy="241.6" r="1.7" fill="#111"/>
<circle cx="277.8" cy="243" r="1.7" fill="#111"/>
<circle cx="287.1" cy="242" r="1.7" fill="#111"/>
<circle cx="289.3" cy="241.6" r="1.7" fill="#111"/>
<circle cx="291.5" cy="242" r="1.7" fill="#111"/>
<line x1="300.9" y1="245.2" x2="300.9" y2="247.5" stroke="#222" stroke-width="0.95"/>
<line x1="299.4" y1="245.2" x2="302.4" y2="245.2" stroke="#222" stroke-width="0.8"/>
<line x1="299.4" y1="247.5" x2="302.4" y2="247.5" stroke="#222" stroke-width="0.8"/>
<circle cx="298.9" cy="247.5" r="1.7" fill="#111"/>
<circle cx="302.9" cy="245.2" r="1.7" fill="#111"/>
<circle cx="300.9" cy="246" r="1.7" fill="#111"/>
<line x1="312.4" y1="268.7" x2="312.4" y2="290.1" stroke="#222" stroke-width="0.95"/>
<line x1="310.9" y1="268.7" x2="313.9" y2="268.7" stroke="#222" stroke-width="0.8"/>
<line x1="310.9" y1="290.1" x2="313.9" y2="290.1" stroke="#222" stroke-width="0.8"/>
<circle cx="312.4" cy="268.7" r="1.7" fill="#111"/>
<circle cx="312.4" cy="277" r="1.7" fill="#111"/>
<circle cx="312.4" cy="290.1" r="1.7" fill="#111"/>
<line x1="243.2" y1="313.2" x2="320.3" y2="313.2" stroke="#2b2b2b" stroke-width="1.5"/>
<line x1="254.5" y1="313.2" x2="254.5" y2="316.5" stroke="#2b2b2b" stroke-width="1"/>
<line x1="266" y1="313.2" x2="266" y2="316.5" stroke="#2b2b2b" stroke-width="1"/>
<line x1="277.8" y1="313.2" x2="277.8" y2="316.5" stroke="#2b2b2b" stroke-width="1"/>
<line x1="289.3" y1="313.2" x2="289.3" y2="316.5" stroke="#2b2b2b" stroke-width="1"/>
<line x1="300.9" y1="313.2" x2="300.9" y2="316.5" stroke="#2b2b2b" stroke-width="1"/>
<line x1="312.4" y1="313.2" x2="312.4" y2="316.5" stroke="#2b2b2b" stroke-width="1"/>
<line x1="254.3" y1="235.3" x2="266" y2="235.3" stroke="#3a3a3a" stroke-width="0.9"/>
<text x="260.15" y="236.9" font-size="6.8" text-anchor="middle" font-weight="normal" fill="#333"  >****</text>
<line x1="266" y1="230.1" x2="277.4" y2="230.1" stroke="#3a3a3a" stroke-width="0.9"/>
<text x="271.7" y="231.7" font-size="6.8" text-anchor="middle" font-weight="normal" fill="#333"  >****</text>
<line x1="266" y1="224.1" x2="288.9" y2="224.1" stroke="#3a3a3a" stroke-width="0.9"/>
<text x="277.45" y="225.7" font-size="6.8" text-anchor="middle" font-weight="normal" fill="#333"  >****</text>
<line x1="266" y1="219" x2="300.2" y2="219" stroke="#3a3a3a" stroke-width="0.9"/>
<text x="283.1" y="220.6" font-size="6.8" text-anchor="middle" font-weight="normal" fill="#333"  >****</text>
<line x1="266" y1="213.5" x2="312" y2="213.5" stroke="#3a3a3a" stroke-width="0.9"/>
<text x="289" y="215.1" font-size="6.8" text-anchor="middle" font-weight="normal" fill="#333"  >**</text>
<text x="246.7" y="326.7" font-size="7" text-anchor="end" font-weight="normal" fill="#231f20"  >Cys</text>
<text x="246.7" y="337.7" font-size="7" text-anchor="end" font-weight="normal" fill="#231f20"  >Fer-1 (μM)</text>
<text x="254.5" y="326.7" font-size="7" text-anchor="middle" font-weight="normal" fill="#231f20"  >+</text>
<text x="266" y="327.2" font-size="7" text-anchor="middle" font-weight="normal" fill="#231f20"  >–</text>
<text x="277.8" y="327.2" font-size="7" text-anchor="middle" font-weight="normal" fill="#231f20"  >–</text>
<text x="289.3" y="327.2" font-size="7" text-anchor="middle" font-weight="normal" fill="#231f20"  >–</text>
<text x="300.9" y="327.2" font-size="7" text-anchor="middle" font-weight="normal" fill="#231f20"  >–</text>
<text x="312.4" y="327.2" font-size="7" text-anchor="middle" font-weight="normal" fill="#231f20"  >–</text>
<text x="254.5" y="338.2" font-size="7" text-anchor="middle" font-weight="normal" fill="#231f20"  >–</text>
<text x="266" y="338.2" font-size="7" text-anchor="middle" font-weight="normal" fill="#231f20"  >–</text>
<text x="0" y="0" font-size="7" text-anchor="end" fill="#231f20" transform="translate(280.8,335.3) rotate(-45)">0.5</text>
<text x="0" y="0" font-size="7" text-anchor="end" fill="#231f20" transform="translate(292.3,335.3) rotate(-45)">1.0</text>
<text x="0" y="0" font-size="7" text-anchor="end" fill="#231f20" transform="translate(303.9,335.3) rotate(-45)">10</text>
<text x="0" y="0" font-size="7" text-anchor="end" fill="#231f20" transform="translate(315.4,335.3) rotate(-45)">50</text>
<line x1="438.2" y1="201.1" x2="438.2" y2="313.6" stroke="#2b2b2b" stroke-width="1.5"/>
<line x1="434.9" y1="313.2" x2="438.2" y2="313.2" stroke="#2b2b2b" stroke-width="1.2"/>
<text x="431.1" y="315.3" font-size="7" text-anchor="end" font-weight="normal" fill="#231f20"  >0</text>
<line x1="434.9" y1="276.83" x2="438.2" y2="276.83" stroke="#2b2b2b" stroke-width="1.2"/>
<text x="431.1" y="278.94" font-size="7" text-anchor="end" font-weight="normal" fill="#231f20"  >50</text>
<line x1="434.9" y1="240.47" x2="438.2" y2="240.47" stroke="#2b2b2b" stroke-width="1.2"/>
<text x="431.1" y="242.57" font-size="7" text-anchor="end" font-weight="normal" fill="#231f20"  >100</text>
<line x1="434.9" y1="204.1" x2="438.2" y2="204.1" stroke="#2b2b2b" stroke-width="1.2"/>
<text x="431.1" y="206.2" font-size="7" text-anchor="end" font-weight="normal" fill="#231f20"  >150</text>
<text x="0" y="0" font-size="8.6" class="yl" text-anchor="middle" fill="#231f20" textLength="48.6" lengthAdjust="spacingAndGlyphs" transform="translate(412.4,257.35) rotate(-90)">Rel. viability (%)</text>
<text x="475.3" y="194.6" font-size="10.1" text-anchor="middle" font-weight="normal" fill="#231f20"  class="t">K562</text>
<rect x="443.1" y="240.47" width="6.8" height="72.73" fill="#454f60"/>
<rect x="454.6" y="247.16" width="6.8" height="66.04" fill="#cfcdd3"/>
<rect x="466.2" y="247.6" width="6.8" height="65.6" fill="#134c8c"/>
<rect x="477.8" y="250.65" width="6.8" height="62.55" fill="#134c8c"/>
<rect x="489.1" y="286.65" width="6.8" height="26.55" fill="#134c8c"/>
<rect x="500.5" y="311.02" width="6.8" height="2.18" fill="#134c8c"/>
<circle cx="444.1" cy="240" r="1.7" fill="#111"/>
<circle cx="446.5" cy="240" r="1.7" fill="#111"/>
<circle cx="448.9" cy="240" r="1.7" fill="#111"/>
<line x1="458" y1="243.5" x2="458" y2="246" stroke="#222" stroke-width="0.95"/>
<line x1="456.5" y1="243.5" x2="459.5" y2="243.5" stroke="#222" stroke-width="0.8"/>
<line x1="456.5" y1="246" x2="459.5" y2="246" stroke="#222" stroke-width="0.8"/>
<circle cx="456.5" cy="244.7" r="1.7" fill="#111"/>
<circle cx="460.5" cy="246" r="1.7" fill="#111"/>
<circle cx="458" cy="243.5" r="1.7" fill="#111"/>
<line x1="469.6" y1="243.5" x2="469.6" y2="246.8" stroke="#222" stroke-width="0.95"/>
<line x1="468.1" y1="243.5" x2="471.1" y2="243.5" stroke="#222" stroke-width="0.8"/>
<line x1="468.1" y1="246.8" x2="471.1" y2="246.8" stroke="#222" stroke-width="0.8"/>
<circle cx="469.6" cy="243.5" r="1.7" fill="#111"/>
<circle cx="468.6" cy="246.8" r="1.7" fill="#111"/>
<circle cx="471.1" cy="246.5" r="1.7" fill="#111"/>
<line x1="481.2" y1="244.7" x2="481.2" y2="249.5" stroke="#222" stroke-width="0.95"/>
<line x1="479.7" y1="244.7" x2="482.7" y2="244.7" stroke="#222" stroke-width="0.8"/>
<line x1="479.7" y1="249.5" x2="482.7" y2="249.5" stroke="#222" stroke-width="0.8"/>
<circle cx="481.2" cy="244.7" r="1.7" fill="#111"/>
<circle cx="479.7" cy="249" r="1.7" fill="#111"/>
<circle cx="482.7" cy="249.5" r="1.7" fill="#111"/>
<line x1="492.5" y1="266.1" x2="492.5" y2="295.3" stroke="#222" stroke-width="0.95"/>
<line x1="491" y1="266.1" x2="494" y2="266.1" stroke="#222" stroke-width="0.8"/>
<line x1="491" y1="295.3" x2="494" y2="295.3" stroke="#222" stroke-width="0.8"/>
<circle cx="492.5" cy="266.1" r="1.7" fill="#111"/>
<circle cx="491" cy="293" r="1.7" fill="#111"/>
<circle cx="494.5" cy="295.3" r="1.7" fill="#111"/>
<circle cx="502.4" cy="309.3" r="1.7" fill="#111"/>
<circle cx="505.4" cy="310.5" r="1.7" fill="#111"/>
<line x1="434.9" y1="313.2" x2="508.5" y2="313.2" stroke="#2b2b2b" stroke-width="1.5"/>
<line x1="446.5" y1="313.2" x2="446.5" y2="316.5" stroke="#2b2b2b" stroke-width="1"/>
<line x1="458" y1="313.2" x2="458" y2="316.5" stroke="#2b2b2b" stroke-width="1"/>
<line x1="469.6" y1="313.2" x2="469.6" y2="316.5" stroke="#2b2b2b" stroke-width="1"/>
<line x1="481.2" y1="313.2" x2="481.2" y2="316.5" stroke="#2b2b2b" stroke-width="1"/>
<line x1="492.5" y1="313.2" x2="492.5" y2="316.5" stroke="#2b2b2b" stroke-width="1"/>
<line x1="503.9" y1="313.2" x2="503.9" y2="316.5" stroke="#2b2b2b" stroke-width="1"/>
<line x1="446.1" y1="236.1" x2="492.4" y2="236.1" stroke="#3a3a3a" stroke-width="0.9"/>
<text x="469.25" y="237.7" font-size="6.8" text-anchor="middle" font-weight="normal" fill="#333"  >****</text>
<line x1="446.1" y1="230.1" x2="504.1" y2="230.1" stroke="#3a3a3a" stroke-width="0.9"/>
<text x="475.1" y="231.7" font-size="6.8" text-anchor="middle" font-weight="normal" fill="#333"  >****</text>
<text x="438.4" y="326.7" font-size="7" text-anchor="end" font-weight="normal" fill="#231f20"  >Cys</text>
<text x="438.4" y="337.7" font-size="7" text-anchor="end" font-weight="normal" fill="#231f20"  >Fer-1 (μM)</text>
<text x="446.5" y="326.7" font-size="7" text-anchor="middle" font-weight="normal" fill="#231f20"  >+</text>
<text x="458" y="327.2" font-size="7" text-anchor="middle" font-weight="normal" fill="#231f20"  >–</text>
<text x="469.6" y="327.2" font-size="7" text-anchor="middle" font-weight="normal" fill="#231f20"  >–</text>
<text x="481.2" y="327.2" font-size="7" text-anchor="middle" font-weight="normal" fill="#231f20"  >–</text>
<text x="492.5" y="327.2" font-size="7" text-anchor="middle" font-weight="normal" fill="#231f20"  >–</text>
<text x="503.9" y="327.2" font-size="7" text-anchor="middle" font-weight="normal" fill="#231f20"  >–</text>
<text x="446.5" y="338.2" font-size="7" text-anchor="middle" font-weight="normal" fill="#231f20"  >–</text>
<text x="458" y="338.2" font-size="7" text-anchor="middle" font-weight="normal" fill="#231f20"  >–</text>
<text x="0" y="0" font-size="7" text-anchor="end" fill="#231f20" transform="translate(472.6,335.3) rotate(-45)">0.5</text>
<text x="0" y="0" font-size="7" text-anchor="end" fill="#231f20" transform="translate(484.2,335.3) rotate(-45)">1.0</text>
<text x="0" y="0" font-size="7" text-anchor="end" fill="#231f20" transform="translate(495.5,335.3) rotate(-45)">10</text>
<text x="0" y="0" font-size="7" text-anchor="end" fill="#231f20" transform="translate(506.9,335.3) rotate(-45)">50</text>
<line x1="55" y1="370.05" x2="55" y2="478.9" stroke="#2b2b2b" stroke-width="1.5"/>
<line x1="51.7" y1="478.5" x2="55" y2="478.5" stroke="#2b2b2b" stroke-width="1.2"/>
<text x="47.9" y="480.6" font-size="7" text-anchor="end" font-weight="normal" fill="#231f20"  >0</text>
<line x1="51.7" y1="443.35" x2="55" y2="443.35" stroke="#2b2b2b" stroke-width="1.2"/>
<text x="47.9" y="445.45" font-size="7" text-anchor="end" font-weight="normal" fill="#231f20"  >50</text>
<line x1="51.7" y1="408.2" x2="55" y2="408.2" stroke="#2b2b2b" stroke-width="1.2"/>
<text x="47.9" y="410.3" font-size="7" text-anchor="end" font-weight="normal" fill="#231f20"  >100</text>
<line x1="51.7" y1="373.05" x2="55" y2="373.05" stroke="#2b2b2b" stroke-width="1.2"/>
<text x="47.9" y="375.15" font-size="7" text-anchor="end" font-weight="normal" fill="#231f20"  >150</text>
<text x="0" y="0" font-size="8.6" class="yl" text-anchor="middle" fill="#231f20" textLength="46.3" lengthAdjust="spacingAndGlyphs" transform="translate(29.2,424.47) rotate(-90)">Rel. counts (%)</text>
<text x="85.15" y="365.4" font-size="10.1" text-anchor="middle" font-weight="normal" fill="#231f20"  class="t">HL60</text>
<rect x="59.2" y="408.2" width="6.6" height="70.3" fill="#454f60"/>
<rect x="93.1" y="438.43" width="6.6" height="40.07" fill="#f48d00"/>
<circle cx="60.1" cy="408.2" r="1.7" fill="#111"/>
<circle cx="62.5" cy="408.2" r="1.7" fill="#111"/>
<circle cx="64.9" cy="408.2" r="1.7" fill="#111"/>
<circle cx="71.4" cy="478.2" r="1.7" fill="#111"/>
<circle cx="73.8" cy="478.2" r="1.7" fill="#111"/>
<circle cx="76.2" cy="478.2" r="1.7" fill="#111"/>
<circle cx="82.6" cy="478.2" r="1.7" fill="#111"/>
<circle cx="85" cy="478.2" r="1.7" fill="#111"/>
<circle cx="87.4" cy="478.2" r="1.7" fill="#111"/>
<line x1="96.4" y1="429.7" x2="96.4" y2="446" stroke="#222" stroke-width="0.95"/>
<line x1="94.9" y1="429.7" x2="97.9" y2="429.7" stroke="#222" stroke-width="0.8"/>
<line x1="94.9" y1="446" x2="97.9" y2="446" stroke="#222" stroke-width="0.8"/>
<circle cx="96.4" cy="431.4" r="1.7" fill="#111"/>
<circle cx="96.4" cy="443" r="1.7" fill="#111"/>
<circle cx="96.4" cy="444.5" r="1.7" fill="#111"/>
<circle cx="105.5" cy="478.2" r="1.7" fill="#111"/>
<circle cx="107.9" cy="478.2" r="1.7" fill="#111"/>
<circle cx="110.3" cy="478.2" r="1.7" fill="#111"/>
<line x1="51.7" y1="478.5" x2="115.3" y2="478.5" stroke="#2b2b2b" stroke-width="1.5"/>
<line x1="62.5" y1="478.5" x2="62.5" y2="481.8" stroke="#2b2b2b" stroke-width="1"/>
<line x1="73.8" y1="478.5" x2="73.8" y2="481.8" stroke="#2b2b2b" stroke-width="1"/>
<line x1="85" y1="478.5" x2="85" y2="481.8" stroke="#2b2b2b" stroke-width="1"/>
<line x1="96.4" y1="478.5" x2="96.4" y2="481.8" stroke="#2b2b2b" stroke-width="1"/>
<line x1="107.9" y1="478.5" x2="107.9" y2="481.8" stroke="#2b2b2b" stroke-width="1"/>
<line x1="63.1" y1="400.8" x2="74.2" y2="400.8" stroke="#3a3a3a" stroke-width="0.9"/>
<text x="68.65" y="402.4" font-size="6.8" text-anchor="middle" font-weight="normal" fill="#333"  >****</text>
<text x="0" y="0" font-size="7.3" text-anchor="end" fill="#231f20" transform="translate(64.9,489.7) rotate(-45)">Ctrl</text>
<text x="0" y="0" font-size="7.3" text-anchor="end" fill="#231f20" transform="translate(76.2,489.7) rotate(-45)">0.2 μM</text>
<text x="0" y="0" font-size="7.3" text-anchor="end" fill="#231f20" transform="translate(87.4,489.7) rotate(-45)">2 μM</text>
<text x="0" y="0" font-size="7.3" text-anchor="end" fill="#231f20" transform="translate(98.8,489.7) rotate(-45)">0.2 μM</text>
<text x="0" y="0" font-size="7.3" text-anchor="end" fill="#231f20" transform="translate(110.3,489.7) rotate(-45)">2 μM</text>
<line x1="64.5" y1="507.1" x2="83.8" y2="507.1" stroke="#333" stroke-width="1"/>
<text x="75.35" y="515.5" font-size="7.4" text-anchor="middle" font-weight="normal" fill="#231f20"  >RSL3</text>
<line x1="90.7" y1="507.1" x2="110.8" y2="507.1" stroke="#333" stroke-width="1"/>
<text x="101.95" y="515.5" font-size="7.4" text-anchor="middle" font-weight="normal" fill="#231f20"  >ML210</text>
<line x1="173.9" y1="370.05" x2="173.9" y2="478.9" stroke="#2b2b2b" stroke-width="1.5"/>
<line x1="170.6" y1="478.5" x2="173.9" y2="478.5" stroke="#2b2b2b" stroke-width="1.2"/>
<text x="166.8" y="480.6" font-size="7" text-anchor="end" font-weight="normal" fill="#231f20"  >0</text>
<line x1="170.6" y1="443.35" x2="173.9" y2="443.35" stroke="#2b2b2b" stroke-width="1.2"/>
<text x="166.8" y="445.45" font-size="7" text-anchor="end" font-weight="normal" fill="#231f20"  >50</text>
<line x1="170.6" y1="408.2" x2="173.9" y2="408.2" stroke="#2b2b2b" stroke-width="1.2"/>
<text x="166.8" y="410.3" font-size="7" text-anchor="end" font-weight="normal" fill="#231f20"  >100</text>
<line x1="170.6" y1="373.05" x2="173.9" y2="373.05" stroke="#2b2b2b" stroke-width="1.2"/>
<text x="166.8" y="375.15" font-size="7" text-anchor="end" font-weight="normal" fill="#231f20"  >150</text>
<text x="0" y="0" font-size="8.6" class="yl" text-anchor="middle" fill="#231f20" textLength="46.3" lengthAdjust="spacingAndGlyphs" transform="translate(148.1,424.47) rotate(-90)">Rel. counts (%)</text>
<text x="204.1" y="365.4" font-size="10.1" text-anchor="middle" font-weight="normal" fill="#231f20"  class="t">MOLM13</text>
<rect x="177.9" y="408.2" width="6.6" height="70.3" fill="#454f60"/>
<circle cx="178.8" cy="408.2" r="1.7" fill="#111"/>
<circle cx="181.2" cy="408.2" r="1.7" fill="#111"/>
<circle cx="183.6" cy="408.2" r="1.7" fill="#111"/>
<circle cx="189.7" cy="478.2" r="1.7" fill="#111"/>
<circle cx="192.1" cy="478.2" r="1.7" fill="#111"/>
<circle cx="194.5" cy="478.2" r="1.7" fill="#111"/>
<circle cx="201" cy="478.2" r="1.7" fill="#111"/>
<circle cx="203.4" cy="478.2" r="1.7" fill="#111"/>
<circle cx="205.8" cy="478.2" r="1.7" fill="#111"/>
<circle cx="212.2" cy="478.2" r="1.7" fill="#111"/>
<circle cx="214.6" cy="478.2" r="1.7" fill="#111"/>
<circle cx="217" cy="478.2" r="1.7" fill="#111"/>
<circle cx="223.85" cy="478.2" r="1.7" fill="#111"/>
<circle cx="226.25" cy="478.2" r="1.7" fill="#111"/>
<circle cx="228.65" cy="478.2" r="1.7" fill="#111"/>
<line x1="170.6" y1="478.5" x2="234.3" y2="478.5" stroke="#2b2b2b" stroke-width="1.5"/>
<line x1="181.2" y1="478.5" x2="181.2" y2="481.8" stroke="#2b2b2b" stroke-width="1"/>
<line x1="192.1" y1="478.5" x2="192.1" y2="481.8" stroke="#2b2b2b" stroke-width="1"/>
<line x1="203.4" y1="478.5" x2="203.4" y2="481.8" stroke="#2b2b2b" stroke-width="1"/>
<line x1="214.6" y1="478.5" x2="214.6" y2="481.8" stroke="#2b2b2b" stroke-width="1"/>
<line x1="226.25" y1="478.5" x2="226.25" y2="481.8" stroke="#2b2b2b" stroke-width="1"/>
<line x1="181" y1="400.4" x2="191.8" y2="400.4" stroke="#3a3a3a" stroke-width="0.9"/>
<text x="186.4" y="402" font-size="6.8" text-anchor="middle" font-weight="normal" fill="#333"  >****</text>
<text x="0" y="0" font-size="7.3" text-anchor="end" fill="#231f20" transform="translate(183.6,489.7) rotate(-45)">Ctrl</text>
<text x="0" y="0" font-size="7.3" text-anchor="end" fill="#231f20" transform="translate(194.5,489.7) rotate(-45)">0.2 μM</text>
<text x="0" y="0" font-size="7.3" text-anchor="end" fill="#231f20" transform="translate(205.8,489.7) rotate(-45)">2 μM</text>
<text x="0" y="0" font-size="7.3" text-anchor="end" fill="#231f20" transform="translate(217,489.7) rotate(-45)">0.2 μM</text>
<text x="0" y="0" font-size="7.3" text-anchor="end" fill="#231f20" transform="translate(228.65,489.7) rotate(-45)">2 μM</text>
<line x1="182" y1="507.1" x2="202.5" y2="507.1" stroke="#333" stroke-width="1"/>
<text x="193.45" y="515.5" font-size="7.4" text-anchor="middle" font-weight="normal" fill="#231f20"  >RSL3</text>
<line x1="208.75" y1="507.1" x2="229.3" y2="507.1" stroke="#333" stroke-width="1"/>
<text x="220.22" y="515.5" font-size="7.4" text-anchor="middle" font-weight="normal" fill="#231f20"  >ML210</text>
<line x1="290.5" y1="371.3" x2="290.5" y2="479.1" stroke="#2b2b2b" stroke-width="1.5"/>
<line x1="287.2" y1="478.7" x2="290.5" y2="478.7" stroke="#2b2b2b" stroke-width="1.2"/>
<text x="283.4" y="480.8" font-size="7" text-anchor="end" font-weight="normal" fill="#231f20"  >0</text>
<line x1="287.2" y1="443.9" x2="290.5" y2="443.9" stroke="#2b2b2b" stroke-width="1.2"/>
<text x="283.4" y="446" font-size="7" text-anchor="end" font-weight="normal" fill="#231f20"  >50</text>
<line x1="287.2" y1="409.1" x2="290.5" y2="409.1" stroke="#2b2b2b" stroke-width="1.2"/>
<text x="283.4" y="411.2" font-size="7" text-anchor="end" font-weight="normal" fill="#231f20"  >100</text>
<line x1="287.2" y1="374.3" x2="290.5" y2="374.3" stroke="#2b2b2b" stroke-width="1.2"/>
<text x="283.4" y="376.4" font-size="7" text-anchor="end" font-weight="normal" fill="#231f20"  >150</text>
<text x="0" y="0" font-size="8.6" class="yl" text-anchor="middle" fill="#231f20" textLength="46.3" lengthAdjust="spacingAndGlyphs" transform="translate(264.7,425.2) rotate(-90)">Rel. counts (%)</text>
<text x="328.25" y="365.4" font-size="10.1" text-anchor="middle" font-weight="normal" fill="#231f20"  class="t">K562</text>
<rect x="294.3" y="409.1" width="6" height="69.6" fill="#454f60"/>
<rect x="304.8" y="413.69" width="6" height="65.01" fill="#2aa2dc"/>
<rect x="315.1" y="415.57" width="6" height="63.13" fill="#2aa2dc"/>
<rect x="325.3" y="461.51" width="6" height="17.19" fill="#2aa2dc"/>
<rect x="335.7" y="412.86" width="6" height="65.84" fill="#f48d00"/>
<rect x="346" y="427.47" width="6" height="51.23" fill="#f48d00"/>
<rect x="356.2" y="434.85" width="6" height="43.85" fill="#f48d00"/>
<circle cx="294.9" cy="409.1" r="1.7" fill="#111"/>
<circle cx="297.3" cy="409.1" r="1.7" fill="#111"/>
<circle cx="299.7" cy="409.1" r="1.7" fill="#111"/>
<line x1="307.8" y1="407.1" x2="307.8" y2="416.8" stroke="#222" stroke-width="0.95"/>
<line x1="306.3" y1="407.1" x2="309.3" y2="407.1" stroke="#222" stroke-width="0.8"/>
<line x1="306.3" y1="416.8" x2="309.3" y2="416.8" stroke="#222" stroke-width="0.8"/>
<circle cx="307.8" cy="407.1" r="1.7" fill="#111"/>
<circle cx="310.5" cy="413.6" r="1.7" fill="#111"/>
<circle cx="305.1" cy="416.8" r="1.7" fill="#111"/>
<line x1="318.1" y1="405.6" x2="318.1" y2="423.8" stroke="#222" stroke-width="0.95"/>
<line x1="316.6" y1="405.6" x2="319.6" y2="405.6" stroke="#222" stroke-width="0.8"/>
<line x1="316.6" y1="423.8" x2="319.6" y2="423.8" stroke="#222" stroke-width="0.8"/>
<circle cx="318.1" cy="405.6" r="1.7" fill="#111"/>
<circle cx="318.1" cy="413.1" r="1.7" fill="#111"/>
<circle cx="318.1" cy="423.8" r="1.7" fill="#111"/>
<line x1="328.3" y1="455.4" x2="328.3" y2="467.5" stroke="#222" stroke-width="0.95"/>
<line x1="326.8" y1="455.4" x2="329.8" y2="455.4" stroke="#222" stroke-width="0.8"/>
<line x1="326.8" y1="467.5" x2="329.8" y2="467.5" stroke="#222" stroke-width="0.8"/>
<circle cx="326" cy="455.4" r="1.7" fill="#111"/>
<circle cx="330.5" cy="457.3" r="1.7" fill="#111"/>
<circle cx="328.3" cy="467.5" r="1.7" fill="#111"/>
<line x1="338.7" y1="407.6" x2="338.7" y2="415.5" stroke="#222" stroke-width="0.95"/>
<line x1="337.2" y1="407.6" x2="340.2" y2="407.6" stroke="#222" stroke-width="0.8"/>
<line x1="337.2" y1="415.5" x2="340.2" y2="415.5" stroke="#222" stroke-width="0.8"/>
<circle cx="338.7" cy="407.6" r="1.7" fill="#111"/>
<circle cx="338.7" cy="410.8" r="1.7" fill="#111"/>
<circle cx="338.7" cy="415.5" r="1.7" fill="#111"/>
<line x1="349" y1="412.3" x2="349" y2="436.5" stroke="#222" stroke-width="0.95"/>
<line x1="347.5" y1="412.3" x2="350.5" y2="412.3" stroke="#222" stroke-width="0.8"/>
<line x1="347.5" y1="436.5" x2="350.5" y2="436.5" stroke="#222" stroke-width="0.8"/>
<circle cx="349" cy="412.3" r="1.7" fill="#111"/>
<circle cx="349" cy="431.7" r="1.7" fill="#111"/>
<circle cx="349" cy="436.5" r="1.7" fill="#111"/>
<line x1="359.2" y1="424.2" x2="359.2" y2="443.9" stroke="#222" stroke-width="0.95"/>
<line x1="357.7" y1="424.2" x2="360.7" y2="424.2" stroke="#222" stroke-width="0.8"/>
<line x1="357.7" y1="443.9" x2="360.7" y2="443.9" stroke="#222" stroke-width="0.8"/>
<circle cx="359.2" cy="424.2" r="1.7" fill="#111"/>
<circle cx="359.2" cy="432" r="1.7" fill="#111"/>
<circle cx="359.2" cy="443.9" r="1.7" fill="#111"/>
<line x1="287.2" y1="478.7" x2="366" y2="478.7" stroke="#2b2b2b" stroke-width="1.5"/>
<line x1="297.3" y1="478.7" x2="297.3" y2="482" stroke="#2b2b2b" stroke-width="1"/>
<line x1="307.8" y1="478.7" x2="307.8" y2="482" stroke="#2b2b2b" stroke-width="1"/>
<line x1="318.1" y1="478.7" x2="318.1" y2="482" stroke="#2b2b2b" stroke-width="1"/>
<line x1="328.3" y1="478.7" x2="328.3" y2="482" stroke="#2b2b2b" stroke-width="1"/>
<line x1="338.7" y1="478.7" x2="338.7" y2="482" stroke="#2b2b2b" stroke-width="1"/>
<line x1="349" y1="478.7" x2="349" y2="482" stroke="#2b2b2b" stroke-width="1"/>
<line x1="359.2" y1="478.7" x2="359.2" y2="482" stroke="#2b2b2b" stroke-width="1"/>
<line x1="298.3" y1="400.2" x2="328.2" y2="400.2" stroke="#3a3a3a" stroke-width="0.9"/>
<text x="313.25" y="401.8" font-size="6.8" text-anchor="middle" font-weight="normal" fill="#333"  >****</text>
<line x1="298.3" y1="392.1" x2="359" y2="392.1" stroke="#3a3a3a" stroke-width="0.9"/>
<text x="328.65" y="393.7" font-size="6.8" text-anchor="middle" font-weight="normal" fill="#333"  >*</text>
<text x="0" y="0" font-size="7.3" text-anchor="end" fill="#231f20" transform="translate(299.7,489.9) rotate(-45)">Ctrl</text>
<text x="0" y="0" font-size="7.3" text-anchor="end" fill="#231f20" transform="translate(310.2,489.9) rotate(-45)">0.2 μM</text>
<text x="0" y="0" font-size="7.3" text-anchor="end" fill="#231f20" transform="translate(320.5,489.9) rotate(-45)">2 μM</text>
<text x="0" y="0" font-size="7.3" text-anchor="end" fill="#231f20" transform="translate(330.7,489.9) rotate(-45)">10 μM</text>
<text x="0" y="0" font-size="7.3" text-anchor="end" fill="#231f20" transform="translate(341.1,489.9) rotate(-45)">0.2 μM</text>
<text x="0" y="0" font-size="7.3" text-anchor="end" fill="#231f20" transform="translate(351.4,489.9) rotate(-45)">2 μM</text>
<text x="0" y="0" font-size="7.3" text-anchor="end" fill="#231f20" transform="translate(361.6,489.9) rotate(-45)">10 μM</text>
<line x1="296.8" y1="507.3" x2="327.7" y2="507.3" stroke="#333" stroke-width="1"/>
<text x="313.45" y="515.7" font-size="7.4" text-anchor="middle" font-weight="normal" fill="#231f20"  >RSL3</text>
<line x1="335.7" y1="507.3" x2="366.3" y2="507.3" stroke="#333" stroke-width="1"/>
<text x="352.2" y="515.7" font-size="7.4" text-anchor="middle" font-weight="normal" fill="#231f20"  >ML210</text>
<line x1="435.9" y1="371.05" x2="435.9" y2="479" stroke="#2b2b2b" stroke-width="1.5"/>
<line x1="432.6" y1="478.6" x2="435.9" y2="478.6" stroke="#2b2b2b" stroke-width="1.2"/>
<text x="428.8" y="480.7" font-size="7" text-anchor="end" font-weight="normal" fill="#231f20"  >0</text>
<line x1="432.6" y1="443.75" x2="435.9" y2="443.75" stroke="#2b2b2b" stroke-width="1.2"/>
<text x="428.8" y="445.85" font-size="7" text-anchor="end" font-weight="normal" fill="#231f20"  >50</text>
<line x1="432.6" y1="408.9" x2="435.9" y2="408.9" stroke="#2b2b2b" stroke-width="1.2"/>
<text x="428.8" y="411" font-size="7" text-anchor="end" font-weight="normal" fill="#231f20"  >100</text>
<line x1="432.6" y1="374.05" x2="435.9" y2="374.05" stroke="#2b2b2b" stroke-width="1.2"/>
<text x="428.8" y="376.15" font-size="7" text-anchor="end" font-weight="normal" fill="#231f20"  >150</text>
<text x="0" y="0" font-size="8.6" class="yl" text-anchor="middle" fill="#231f20" textLength="46.3" lengthAdjust="spacingAndGlyphs" transform="translate(410.1,425.03) rotate(-90)">Rel. counts (%)</text>
<text x="473.85" y="365.4" font-size="10.1" text-anchor="middle" font-weight="normal" fill="#231f20"  class="t">K562</text>
<rect x="440.2" y="408.9" width="6" height="69.7" fill="#454f60"/>
<rect x="450.3" y="409.6" width="6" height="69" fill="#2aa2dc"/>
<rect x="460.8" y="422.84" width="6" height="55.76" fill="#2aa2dc"/>
<rect x="470.8" y="475.12" width="6" height="3.48" fill="#2aa2dc"/>
<rect x="481.1" y="415.17" width="6" height="63.43" fill="#f48d00"/>
<rect x="491.9" y="431.9" width="6" height="46.7" fill="#f48d00"/>
<rect x="502.1" y="449.33" width="6" height="29.27" fill="#f48d00"/>
<circle cx="440.8" cy="408.9" r="1.7" fill="#111"/>
<circle cx="443.2" cy="408.9" r="1.7" fill="#111"/>
<circle cx="445.6" cy="408.9" r="1.7" fill="#111"/>
<line x1="453.3" y1="394.7" x2="453.3" y2="424.6" stroke="#222" stroke-width="0.95"/>
<line x1="451.8" y1="394.7" x2="454.8" y2="394.7" stroke="#222" stroke-width="0.8"/>
<line x1="451.8" y1="424.6" x2="454.8" y2="424.6" stroke="#222" stroke-width="0.8"/>
<circle cx="453.3" cy="394.7" r="1.7" fill="#111"/>
<circle cx="453.3" cy="405.6" r="1.7" fill="#111"/>
<circle cx="453.3" cy="424.6" r="1.7" fill="#111"/>
<line x1="463.8" y1="397.9" x2="463.8" y2="447.5" stroke="#222" stroke-width="0.95"/>
<line x1="462.3" y1="397.9" x2="465.3" y2="397.9" stroke="#222" stroke-width="0.8"/>
<line x1="462.3" y1="447.5" x2="465.3" y2="447.5" stroke="#222" stroke-width="0.8"/>
<circle cx="461.2" cy="407.6" r="1.7" fill="#111"/>
<circle cx="466.4" cy="408.8" r="1.7" fill="#111"/>
<circle cx="463.8" cy="449.8" r="1.7" fill="#111"/>
<circle cx="471.5" cy="471.4" r="1.7" fill="#111"/>
<circle cx="475.5" cy="474.4" r="1.7" fill="#111"/>
<line x1="484.1" y1="395.9" x2="484.1" y2="431.8" stroke="#222" stroke-width="0.95"/>
<line x1="482.6" y1="395.9" x2="485.6" y2="395.9" stroke="#222" stroke-width="0.8"/>
<line x1="482.6" y1="431.8" x2="485.6" y2="431.8" stroke="#222" stroke-width="0.8"/>
<circle cx="484.1" cy="393.4" r="1.7" fill="#111"/>
<circle cx="484.1" cy="422.3" r="1.7" fill="#111"/>
<circle cx="484.1" cy="426" r="1.7" fill="#111"/>
<line x1="494.9" y1="410.4" x2="494.9" y2="453.2" stroke="#222" stroke-width="0.95"/>
<line x1="493.4" y1="410.4" x2="496.4" y2="410.4" stroke="#222" stroke-width="0.8"/>
<line x1="493.4" y1="453.2" x2="496.4" y2="453.2" stroke="#222" stroke-width="0.8"/>
<circle cx="494.9" cy="414.6" r="1.7" fill="#111"/>
<circle cx="494.9" cy="424.6" r="1.7" fill="#111"/>
<circle cx="494.9" cy="453.2" r="1.7" fill="#111"/>
<line x1="505.1" y1="436.5" x2="505.1" y2="462.2" stroke="#222" stroke-width="0.95"/>
<line x1="503.6" y1="436.5" x2="506.6" y2="436.5" stroke="#222" stroke-width="0.8"/>
<line x1="503.6" y1="462.2" x2="506.6" y2="462.2" stroke="#222" stroke-width="0.8"/>
<circle cx="501.9" cy="441.2" r="1.7" fill="#111"/>
<circle cx="507.5" cy="442.2" r="1.7" fill="#111"/>
<circle cx="505.1" cy="462.2" r="1.7" fill="#111"/>
<line x1="432.6" y1="478.6" x2="511.8" y2="478.6" stroke="#2b2b2b" stroke-width="1.5"/>
<line x1="443.2" y1="478.6" x2="443.2" y2="481.9" stroke="#2b2b2b" stroke-width="1"/>
<line x1="453.3" y1="478.6" x2="453.3" y2="481.9" stroke="#2b2b2b" stroke-width="1"/>
<line x1="463.8" y1="478.6" x2="463.8" y2="481.9" stroke="#2b2b2b" stroke-width="1"/>
<line x1="473.8" y1="478.6" x2="473.8" y2="481.9" stroke="#2b2b2b" stroke-width="1"/>
<line x1="484.1" y1="478.6" x2="484.1" y2="481.9" stroke="#2b2b2b" stroke-width="1"/>
<line x1="494.9" y1="478.6" x2="494.9" y2="481.9" stroke="#2b2b2b" stroke-width="1"/>
<line x1="505.1" y1="478.6" x2="505.1" y2="481.9" stroke="#2b2b2b" stroke-width="1"/>
<line x1="440.4" y1="390" x2="470.9" y2="390" stroke="#3a3a3a" stroke-width="0.9"/>
<text x="455.65" y="391.6" font-size="6.8" text-anchor="middle" font-weight="normal" fill="#333"  >***</text>
<line x1="440.4" y1="380.2" x2="505.1" y2="380.2" stroke="#3a3a3a" stroke-width="0.9"/>
<text x="472.75" y="381.8" font-size="6.8" text-anchor="middle" font-weight="normal" fill="#333"  >*</text>
<text x="0" y="0" font-size="7.3" text-anchor="end" fill="#231f20" transform="translate(445.6,489.8) rotate(-45)">Ctrl</text>
<text x="0" y="0" font-size="7.3" text-anchor="end" fill="#231f20" transform="translate(455.7,489.8) rotate(-45)">0.2 μM</text>
<text x="0" y="0" font-size="7.3" text-anchor="end" fill="#231f20" transform="translate(466.2,489.8) rotate(-45)">2 μM</text>
<text x="0" y="0" font-size="7.3" text-anchor="end" fill="#231f20" transform="translate(476.2,489.8) rotate(-45)">10 μM</text>
<text x="0" y="0" font-size="7.3" text-anchor="end" fill="#231f20" transform="translate(486.5,489.8) rotate(-45)">0.2 μM</text>
<text x="0" y="0" font-size="7.3" text-anchor="end" fill="#231f20" transform="translate(497.3,489.8) rotate(-45)">2 μM</text>
<text x="0" y="0" font-size="7.3" text-anchor="end" fill="#231f20" transform="translate(507.5,489.8) rotate(-45)">10 μM</text>
<line x1="442.5" y1="507.2" x2="473.3" y2="507.2" stroke="#333" stroke-width="1"/>
<text x="459.1" y="515.6" font-size="7.4" text-anchor="middle" font-weight="normal" fill="#231f20"  >RSL3</text>
<line x1="481.6" y1="507.2" x2="511.7" y2="507.2" stroke="#333" stroke-width="1"/>
<text x="497.85" y="515.6" font-size="7.4" text-anchor="middle" font-weight="normal" fill="#231f20"  >ML210</text>
<line x1="55" y1="544.5" x2="55" y2="653.5" stroke="#2b2b2b" stroke-width="1.5"/>
<line x1="51.7" y1="653.1" x2="55" y2="653.1" stroke="#2b2b2b" stroke-width="1.2"/>
<text x="47.9" y="655.2" font-size="7" text-anchor="end" font-weight="normal" fill="#231f20"  >0</text>
<line x1="51.7" y1="617.9" x2="55" y2="617.9" stroke="#2b2b2b" stroke-width="1.2"/>
<text x="47.9" y="620" font-size="7" text-anchor="end" font-weight="normal" fill="#231f20"  >50</text>
<line x1="51.7" y1="582.7" x2="55" y2="582.7" stroke="#2b2b2b" stroke-width="1.2"/>
<text x="47.9" y="584.8" font-size="7" text-anchor="end" font-weight="normal" fill="#231f20"  >100</text>
<line x1="51.7" y1="547.5" x2="55" y2="547.5" stroke="#2b2b2b" stroke-width="1.2"/>
<text x="47.9" y="549.6" font-size="7" text-anchor="end" font-weight="normal" fill="#231f20"  >150</text>
<text x="0" y="0" font-size="8.6" class="yl" text-anchor="middle" fill="#231f20" textLength="48.6" lengthAdjust="spacingAndGlyphs" transform="translate(29.2,599) rotate(-90)">Rel. viability (%)</text>
<text x="85.15" y="540.5" font-size="10.1" text-anchor="middle" font-weight="normal" fill="#231f20"  class="t">HL60</text>
<rect x="59.2" y="582.7" width="6.6" height="70.4" fill="#454f60"/>
<rect x="93.1" y="608.75" width="6.6" height="44.35" fill="#f48d00"/>
<circle cx="60.1" cy="582.7" r="1.7" fill="#111"/>
<circle cx="62.5" cy="582.7" r="1.7" fill="#111"/>
<circle cx="64.9" cy="582.7" r="1.7" fill="#111"/>
<circle cx="71.4" cy="652.8" r="1.7" fill="#111"/>
<circle cx="73.8" cy="652.8" r="1.7" fill="#111"/>
<circle cx="76.2" cy="652.8" r="1.7" fill="#111"/>
<circle cx="82.6" cy="652.8" r="1.7" fill="#111"/>
<circle cx="85" cy="652.8" r="1.7" fill="#111"/>
<circle cx="87.4" cy="652.8" r="1.7" fill="#111"/>
<line x1="96.4" y1="601.6" x2="96.4" y2="614" stroke="#222" stroke-width="0.95"/>
<line x1="94.9" y1="601.6" x2="97.9" y2="601.6" stroke="#222" stroke-width="0.8"/>
<line x1="94.9" y1="614" x2="97.9" y2="614" stroke="#222" stroke-width="0.8"/>
<circle cx="96.4" cy="602.6" r="1.7" fill="#111"/>
<circle cx="96.4" cy="612.5" r="1.7" fill="#111"/>
<circle cx="96.4" cy="613.5" r="1.7" fill="#111"/>
<circle cx="105.5" cy="652.8" r="1.7" fill="#111"/>
<circle cx="107.9" cy="652.8" r="1.7" fill="#111"/>
<circle cx="110.3" cy="652.8" r="1.7" fill="#111"/>
<line x1="51.7" y1="653.1" x2="115.3" y2="653.1" stroke="#2b2b2b" stroke-width="1.5"/>
<line x1="62.5" y1="653.1" x2="62.5" y2="656.4" stroke="#2b2b2b" stroke-width="1"/>
<line x1="73.8" y1="653.1" x2="73.8" y2="656.4" stroke="#2b2b2b" stroke-width="1"/>
<line x1="85" y1="653.1" x2="85" y2="656.4" stroke="#2b2b2b" stroke-width="1"/>
<line x1="96.4" y1="653.1" x2="96.4" y2="656.4" stroke="#2b2b2b" stroke-width="1"/>
<line x1="107.9" y1="653.1" x2="107.9" y2="656.4" stroke="#2b2b2b" stroke-width="1"/>
<line x1="63.1" y1="576.5" x2="74.2" y2="576.5" stroke="#3a3a3a" stroke-width="0.9"/>
<text x="68.65" y="578.1" font-size="6.8" text-anchor="middle" font-weight="normal" fill="#333"  >****</text>
<text x="0" y="0" font-size="7.3" text-anchor="end" fill="#231f20" transform="translate(64.9,664.3) rotate(-45)">Ctrl</text>
<text x="0" y="0" font-size="7.3" text-anchor="end" fill="#231f20" transform="translate(76.2,664.3) rotate(-45)">0.2 μM</text>
<text x="0" y="0" font-size="7.3" text-anchor="end" fill="#231f20" transform="translate(87.4,664.3) rotate(-45)">3 μM</text>
<text x="0" y="0" font-size="7.3" text-anchor="end" fill="#231f20" transform="translate(98.8,664.3) rotate(-45)">0.2 μM</text>
<text x="0" y="0" font-size="7.3" text-anchor="end" fill="#231f20" transform="translate(110.3,664.3) rotate(-45)">2 μM</text>
<line x1="64.5" y1="681.7" x2="83.8" y2="681.7" stroke="#333" stroke-width="1"/>
<text x="75.35" y="690.1" font-size="7.4" text-anchor="middle" font-weight="normal" fill="#231f20"  >RSL3</text>
<line x1="90.7" y1="681.7" x2="110.8" y2="681.7" stroke="#333" stroke-width="1"/>
<text x="101.95" y="690.1" font-size="7.4" text-anchor="middle" font-weight="normal" fill="#231f20"  >ML210</text>
<line x1="173.9" y1="544.5" x2="173.9" y2="653.5" stroke="#2b2b2b" stroke-width="1.5"/>
<line x1="170.6" y1="653.1" x2="173.9" y2="653.1" stroke="#2b2b2b" stroke-width="1.2"/>
<text x="166.8" y="655.2" font-size="7" text-anchor="end" font-weight="normal" fill="#231f20"  >0</text>
<line x1="170.6" y1="617.9" x2="173.9" y2="617.9" stroke="#2b2b2b" stroke-width="1.2"/>
<text x="166.8" y="620" font-size="7" text-anchor="end" font-weight="normal" fill="#231f20"  >50</text>
<line x1="170.6" y1="582.7" x2="173.9" y2="582.7" stroke="#2b2b2b" stroke-width="1.2"/>
<text x="166.8" y="584.8" font-size="7" text-anchor="end" font-weight="normal" fill="#231f20"  >100</text>
<line x1="170.6" y1="547.5" x2="173.9" y2="547.5" stroke="#2b2b2b" stroke-width="1.2"/>
<text x="166.8" y="549.6" font-size="7" text-anchor="end" font-weight="normal" fill="#231f20"  >150</text>
<text x="0" y="0" font-size="8.6" class="yl" text-anchor="middle" fill="#231f20" textLength="48.6" lengthAdjust="spacingAndGlyphs" transform="translate(148.1,599) rotate(-90)">Rel. viability (%)</text>
<text x="204.1" y="540.5" font-size="10.1" text-anchor="middle" font-weight="normal" fill="#231f20"  class="t">MOLM13</text>
<rect x="177.9" y="582.7" width="6.6" height="70.4" fill="#454f60"/>
<circle cx="178.8" cy="582.7" r="1.7" fill="#111"/>
<circle cx="181.2" cy="582.7" r="1.7" fill="#111"/>
<circle cx="183.6" cy="582.7" r="1.7" fill="#111"/>
<circle cx="189.7" cy="652.8" r="1.7" fill="#111"/>
<circle cx="192.1" cy="652.8" r="1.7" fill="#111"/>
<circle cx="194.5" cy="652.8" r="1.7" fill="#111"/>
<circle cx="201" cy="652.8" r="1.7" fill="#111"/>
<circle cx="203.4" cy="652.8" r="1.7" fill="#111"/>
<circle cx="205.8" cy="652.8" r="1.7" fill="#111"/>
<circle cx="212.2" cy="652.8" r="1.7" fill="#111"/>
<circle cx="214.6" cy="652.8" r="1.7" fill="#111"/>
<circle cx="217" cy="652.8" r="1.7" fill="#111"/>
<circle cx="223.85" cy="652.8" r="1.7" fill="#111"/>
<circle cx="226.25" cy="652.8" r="1.7" fill="#111"/>
<circle cx="228.65" cy="652.8" r="1.7" fill="#111"/>
<line x1="170.6" y1="653.1" x2="234.3" y2="653.1" stroke="#2b2b2b" stroke-width="1.5"/>
<line x1="181.2" y1="653.1" x2="181.2" y2="656.4" stroke="#2b2b2b" stroke-width="1"/>
<line x1="192.1" y1="653.1" x2="192.1" y2="656.4" stroke="#2b2b2b" stroke-width="1"/>
<line x1="203.4" y1="653.1" x2="203.4" y2="656.4" stroke="#2b2b2b" stroke-width="1"/>
<line x1="214.6" y1="653.1" x2="214.6" y2="656.4" stroke="#2b2b2b" stroke-width="1"/>
<line x1="226.25" y1="653.1" x2="226.25" y2="656.4" stroke="#2b2b2b" stroke-width="1"/>
<line x1="181" y1="576.4" x2="191.8" y2="576.4" stroke="#3a3a3a" stroke-width="0.9"/>
<text x="186.4" y="578" font-size="6.8" text-anchor="middle" font-weight="normal" fill="#333"  >****</text>
<text x="0" y="0" font-size="7.3" text-anchor="end" fill="#231f20" transform="translate(183.6,664.3) rotate(-45)">Ctrl</text>
<text x="0" y="0" font-size="7.3" text-anchor="end" fill="#231f20" transform="translate(194.5,664.3) rotate(-45)">0.2 μM</text>
<text x="0" y="0" font-size="7.3" text-anchor="end" fill="#231f20" transform="translate(205.8,664.3) rotate(-45)">2 μM</text>
<text x="0" y="0" font-size="7.3" text-anchor="end" fill="#231f20" transform="translate(217,664.3) rotate(-45)">0.2 μM</text>
<text x="0" y="0" font-size="7.3" text-anchor="end" fill="#231f20" transform="translate(228.65,664.3) rotate(-45)">2 μM</text>
<line x1="182" y1="681.7" x2="202.5" y2="681.7" stroke="#333" stroke-width="1"/>
<text x="193.45" y="690.1" font-size="7.4" text-anchor="middle" font-weight="normal" fill="#231f20"  >RSL3</text>
<line x1="208.75" y1="681.7" x2="229.3" y2="681.7" stroke="#333" stroke-width="1"/>
<text x="220.22" y="690.1" font-size="7.4" text-anchor="middle" font-weight="normal" fill="#231f20"  >ML210</text>
<line x1="290.5" y1="545.55" x2="290.5" y2="653.5" stroke="#2b2b2b" stroke-width="1.5"/>
<line x1="287.2" y1="653.1" x2="290.5" y2="653.1" stroke="#2b2b2b" stroke-width="1.2"/>
<text x="283.4" y="655.2" font-size="7" text-anchor="end" font-weight="normal" fill="#231f20"  >0</text>
<line x1="287.2" y1="618.25" x2="290.5" y2="618.25" stroke="#2b2b2b" stroke-width="1.2"/>
<text x="283.4" y="620.35" font-size="7" text-anchor="end" font-weight="normal" fill="#231f20"  >50</text>
<line x1="287.2" y1="583.4" x2="290.5" y2="583.4" stroke="#2b2b2b" stroke-width="1.2"/>
<text x="283.4" y="585.5" font-size="7" text-anchor="end" font-weight="normal" fill="#231f20"  >100</text>
<line x1="287.2" y1="548.55" x2="290.5" y2="548.55" stroke="#2b2b2b" stroke-width="1.2"/>
<text x="283.4" y="550.65" font-size="7" text-anchor="end" font-weight="normal" fill="#231f20"  >150</text>
<text x="0" y="0" font-size="8.6" class="yl" text-anchor="middle" fill="#231f20" textLength="48.6" lengthAdjust="spacingAndGlyphs" transform="translate(264.7,599.53) rotate(-90)">Rel. viability (%)</text>
<text x="328.25" y="540.5" font-size="10.1" text-anchor="middle" font-weight="normal" fill="#231f20"  class="t">K562</text>
<rect x="294.3" y="583.4" width="6" height="69.7" fill="#454f60"/>
<rect x="304.8" y="586.54" width="6" height="66.56" fill="#2aa2dc"/>
<rect x="315.1" y="587.3" width="6" height="65.8" fill="#2aa2dc"/>
<rect x="325.3" y="629.89" width="6" height="23.21" fill="#2aa2dc"/>
<rect x="335.7" y="585.49" width="6" height="67.61" fill="#f48d00"/>
<rect x="346" y="596.78" width="6" height="56.32" fill="#f48d00"/>
<rect x="356.2" y="601.8" width="6" height="51.3" fill="#f48d00"/>
<circle cx="294.9" cy="583.4" r="1.7" fill="#111"/>
<circle cx="297.3" cy="583.4" r="1.7" fill="#111"/>
<circle cx="299.7" cy="583.4" r="1.7" fill="#111"/>
<line x1="307.8" y1="581.8" x2="307.8" y2="588.9" stroke="#222" stroke-width="0.95"/>
<line x1="306.3" y1="581.8" x2="309.3" y2="581.8" stroke="#222" stroke-width="0.8"/>
<line x1="306.3" y1="588.9" x2="309.3" y2="588.9" stroke="#222" stroke-width="0.8"/>
<circle cx="307.8" cy="581.8" r="1.7" fill="#111"/>
<circle cx="310.5" cy="585.8" r="1.7" fill="#111"/>
<circle cx="305.1" cy="588.9" r="1.7" fill="#111"/>
<line x1="318.1" y1="581" x2="318.1" y2="590.5" stroke="#222" stroke-width="0.95"/>
<line x1="316.6" y1="581" x2="319.6" y2="581" stroke="#222" stroke-width="0.8"/>
<line x1="316.6" y1="590.5" x2="319.6" y2="590.5" stroke="#222" stroke-width="0.8"/>
<circle cx="318.1" cy="581" r="1.7" fill="#111"/>
<circle cx="320.1" cy="587.8" r="1.7" fill="#111"/>
<circle cx="316.1" cy="590.5" r="1.7" fill="#111"/>
<line x1="328.3" y1="625.2" x2="328.3" y2="636.2" stroke="#222" stroke-width="0.95"/>
<line x1="326.8" y1="625.2" x2="329.8" y2="625.2" stroke="#222" stroke-width="0.8"/>
<line x1="326.8" y1="636.2" x2="329.8" y2="636.2" stroke="#222" stroke-width="0.8"/>
<circle cx="326" cy="625.2" r="1.7" fill="#111"/>
<circle cx="330.5" cy="627.6" r="1.7" fill="#111"/>
<circle cx="328.3" cy="636.2" r="1.7" fill="#111"/>
<line x1="338.7" y1="583.1" x2="338.7" y2="588.4" stroke="#222" stroke-width="0.95"/>
<line x1="337.2" y1="583.1" x2="340.2" y2="583.1" stroke="#222" stroke-width="0.8"/>
<line x1="337.2" y1="588.4" x2="340.2" y2="588.4" stroke="#222" stroke-width="0.8"/>
<circle cx="336.5" cy="583.1" r="1.7" fill="#111"/>
<circle cx="341" cy="584.2" r="1.7" fill="#111"/>
<circle cx="338.7" cy="588.4" r="1.7" fill="#111"/>
<line x1="349" y1="587.8" x2="349" y2="605.8" stroke="#222" stroke-width="0.95"/>
<line x1="347.5" y1="587.8" x2="350.5" y2="587.8" stroke="#222" stroke-width="0.8"/>
<line x1="347.5" y1="605.8" x2="350.5" y2="605.8" stroke="#222" stroke-width="0.8"/>
<circle cx="349" cy="587.8" r="1.7" fill="#111"/>
<circle cx="349" cy="596" r="1.7" fill="#111"/>
<circle cx="349" cy="605.8" r="1.7" fill="#111"/>
<line x1="359.2" y1="591" x2="359.2" y2="613.4" stroke="#222" stroke-width="0.95"/>
<line x1="357.7" y1="591" x2="360.7" y2="591" stroke="#222" stroke-width="0.8"/>
<line x1="357.7" y1="613.4" x2="360.7" y2="613.4" stroke="#222" stroke-width="0.8"/>
<circle cx="359.2" cy="592.9" r="1.7" fill="#111"/>
<circle cx="359.2" cy="597.3" r="1.7" fill="#111"/>
<circle cx="359.2" cy="613.4" r="1.7" fill="#111"/>
<line x1="287.2" y1="653.1" x2="366" y2="653.1" stroke="#2b2b2b" stroke-width="1.5"/>
<line x1="297.3" y1="653.1" x2="297.3" y2="656.4" stroke="#2b2b2b" stroke-width="1"/>
<line x1="307.8" y1="653.1" x2="307.8" y2="656.4" stroke="#2b2b2b" stroke-width="1"/>
<line x1="318.1" y1="653.1" x2="318.1" y2="656.4" stroke="#2b2b2b" stroke-width="1"/>
<line x1="328.3" y1="653.1" x2="328.3" y2="656.4" stroke="#2b2b2b" stroke-width="1"/>
<line x1="338.7" y1="653.1" x2="338.7" y2="656.4" stroke="#2b2b2b" stroke-width="1"/>
<line x1="349" y1="653.1" x2="349" y2="656.4" stroke="#2b2b2b" stroke-width="1"/>
<line x1="359.2" y1="653.1" x2="359.2" y2="656.4" stroke="#2b2b2b" stroke-width="1"/>
<line x1="298.3" y1="576" x2="328.2" y2="576" stroke="#3a3a3a" stroke-width="0.9"/>
<text x="313.25" y="577.6" font-size="6.8" text-anchor="middle" font-weight="normal" fill="#333"  >****</text>
<line x1="298.3" y1="568.1" x2="359" y2="568.1" stroke="#3a3a3a" stroke-width="0.9"/>
<text x="328.65" y="569.7" font-size="6.8" text-anchor="middle" font-weight="normal" fill="#333"  >*</text>
<text x="0" y="0" font-size="7.3" text-anchor="end" fill="#231f20" transform="translate(299.7,664.3) rotate(-45)">Ctrl</text>
<text x="0" y="0" font-size="7.3" text-anchor="end" fill="#231f20" transform="translate(310.2,664.3) rotate(-45)">0.2 μM</text>
<text x="0" y="0" font-size="7.3" text-anchor="end" fill="#231f20" transform="translate(320.5,664.3) rotate(-45)">2 μM</text>
<text x="0" y="0" font-size="7.3" text-anchor="end" fill="#231f20" transform="translate(330.7,664.3) rotate(-45)">10 μM</text>
<text x="0" y="0" font-size="7.3" text-anchor="end" fill="#231f20" transform="translate(341.1,664.3) rotate(-45)">0.2 μM</text>
<text x="0" y="0" font-size="7.3" text-anchor="end" fill="#231f20" transform="translate(351.4,664.3) rotate(-45)">2 μM</text>
<text x="0" y="0" font-size="7.3" text-anchor="end" fill="#231f20" transform="translate(361.6,664.3) rotate(-45)">10 μM</text>
<line x1="296.8" y1="681.7" x2="327.7" y2="681.7" stroke="#333" stroke-width="1"/>
<text x="313.45" y="690.1" font-size="7.4" text-anchor="middle" font-weight="normal" fill="#231f20"  >RSL3</text>
<line x1="335.7" y1="681.7" x2="366.3" y2="681.7" stroke="#333" stroke-width="1"/>
<text x="352.2" y="690.1" font-size="7.4" text-anchor="middle" font-weight="normal" fill="#231f20"  >ML210</text>
<line x1="435.9" y1="546.35" x2="435.9" y2="653.7" stroke="#2b2b2b" stroke-width="1.5"/>
<line x1="432.6" y1="653.3" x2="435.9" y2="653.3" stroke="#2b2b2b" stroke-width="1.2"/>
<text x="428.8" y="655.4" font-size="7" text-anchor="end" font-weight="normal" fill="#231f20"  >0</text>
<line x1="432.6" y1="618.65" x2="435.9" y2="618.65" stroke="#2b2b2b" stroke-width="1.2"/>
<text x="428.8" y="620.75" font-size="7" text-anchor="end" font-weight="normal" fill="#231f20"  >50</text>
<line x1="432.6" y1="584" x2="435.9" y2="584" stroke="#2b2b2b" stroke-width="1.2"/>
<text x="428.8" y="586.1" font-size="7" text-anchor="end" font-weight="normal" fill="#231f20"  >100</text>
<line x1="432.6" y1="549.35" x2="435.9" y2="549.35" stroke="#2b2b2b" stroke-width="1.2"/>
<text x="428.8" y="551.45" font-size="7" text-anchor="end" font-weight="normal" fill="#231f20"  >150</text>
<text x="0" y="0" font-size="8.6" class="yl" text-anchor="middle" fill="#231f20" textLength="48.6" lengthAdjust="spacingAndGlyphs" transform="translate(410.1,600.02) rotate(-90)">Rel. viability (%)</text>
<text x="473.85" y="540.5" font-size="10.1" text-anchor="middle" font-weight="normal" fill="#231f20"  class="t">K562</text>
<rect x="440.2" y="584" width="6" height="69.3" fill="#454f60"/>
<rect x="450.3" y="587.05" width="6" height="66.25" fill="#2aa2dc"/>
<rect x="460.8" y="589.27" width="6" height="64.03" fill="#2aa2dc"/>
<rect x="470.8" y="647.06" width="6" height="6.24" fill="#2aa2dc"/>
<rect x="481.1" y="585.8" width="6" height="67.5" fill="#f48d00"/>
<rect x="491.9" y="594.74" width="6" height="58.56" fill="#f48d00"/>
<rect x="502.1" y="603.89" width="6" height="49.41" fill="#f48d00"/>
<circle cx="440.8" cy="584" r="1.7" fill="#111"/>
<circle cx="443.2" cy="584" r="1.7" fill="#111"/>
<circle cx="445.6" cy="584" r="1.7" fill="#111"/>
<line x1="453.3" y1="583.8" x2="453.3" y2="588.4" stroke="#222" stroke-width="0.95"/>
<line x1="451.8" y1="583.8" x2="454.8" y2="583.8" stroke="#222" stroke-width="0.8"/>
<line x1="451.8" y1="588.4" x2="454.8" y2="588.4" stroke="#222" stroke-width="0.8"/>
<circle cx="450.8" cy="583.8" r="1.7" fill="#111"/>
<circle cx="455.3" cy="583.8" r="1.7" fill="#111"/>
<circle cx="453.3" cy="588.4" r="1.7" fill="#111"/>
<line x1="463.8" y1="583.8" x2="463.8" y2="595.6" stroke="#222" stroke-width="0.95"/>
<line x1="462.3" y1="583.8" x2="465.3" y2="583.8" stroke="#222" stroke-width="0.8"/>
<line x1="462.3" y1="595.6" x2="465.3" y2="595.6" stroke="#222" stroke-width="0.8"/>
<circle cx="461.5" cy="583.8" r="1.7" fill="#111"/>
<circle cx="466" cy="585.1" r="1.7" fill="#111"/>
<circle cx="463.8" cy="595.6" r="1.7" fill="#111"/>
<line x1="473.8" y1="640.2" x2="473.8" y2="650" stroke="#222" stroke-width="0.95"/>
<line x1="472.3" y1="640.2" x2="475.3" y2="640.2" stroke="#222" stroke-width="0.8"/>
<line x1="472.3" y1="650" x2="475.3" y2="650" stroke="#222" stroke-width="0.8"/>
<circle cx="473.8" cy="640.2" r="1.7" fill="#111"/>
<circle cx="473.8" cy="644.4" r="1.7" fill="#111"/>
<circle cx="473.8" cy="650" r="1.7" fill="#111"/>
<circle cx="481.7" cy="585.4" r="1.7" fill="#111"/>
<circle cx="484.1" cy="585.4" r="1.7" fill="#111"/>
<circle cx="486.5" cy="585.4" r="1.7" fill="#111"/>
<line x1="494.9" y1="586.4" x2="494.9" y2="601.5" stroke="#222" stroke-width="0.95"/>
<line x1="493.4" y1="586.4" x2="496.4" y2="586.4" stroke="#222" stroke-width="0.8"/>
<line x1="493.4" y1="601.5" x2="496.4" y2="601.5" stroke="#222" stroke-width="0.8"/>
<circle cx="494.9" cy="586.4" r="1.7" fill="#111"/>
<circle cx="494.9" cy="592.6" r="1.7" fill="#111"/>
<circle cx="494.9" cy="601.5" r="1.7" fill="#111"/>
<line x1="505.1" y1="594.3" x2="505.1" y2="612.1" stroke="#222" stroke-width="0.95"/>
<line x1="503.6" y1="594.3" x2="506.6" y2="594.3" stroke="#222" stroke-width="0.8"/>
<line x1="503.6" y1="612.1" x2="506.6" y2="612.1" stroke="#222" stroke-width="0.8"/>
<circle cx="505.1" cy="594.3" r="1.7" fill="#111"/>
<circle cx="505.1" cy="601.5" r="1.7" fill="#111"/>
<circle cx="505.1" cy="612.1" r="1.7" fill="#111"/>
<line x1="432.6" y1="653.3" x2="511.8" y2="653.3" stroke="#2b2b2b" stroke-width="1.5"/>
<line x1="443.2" y1="653.3" x2="443.2" y2="656.6" stroke="#2b2b2b" stroke-width="1"/>
<line x1="453.3" y1="653.3" x2="453.3" y2="656.6" stroke="#2b2b2b" stroke-width="1"/>
<line x1="463.8" y1="653.3" x2="463.8" y2="656.6" stroke="#2b2b2b" stroke-width="1"/>
<line x1="473.8" y1="653.3" x2="473.8" y2="656.6" stroke="#2b2b2b" stroke-width="1"/>
<line x1="484.1" y1="653.3" x2="484.1" y2="656.6" stroke="#2b2b2b" stroke-width="1"/>
<line x1="494.9" y1="653.3" x2="494.9" y2="656.6" stroke="#2b2b2b" stroke-width="1"/>
<line x1="505.1" y1="653.3" x2="505.1" y2="656.6" stroke="#2b2b2b" stroke-width="1"/>
<line x1="440.8" y1="576.2" x2="472.6" y2="576.2" stroke="#3a3a3a" stroke-width="0.9"/>
<text x="456.7" y="577.8" font-size="6.8" text-anchor="middle" font-weight="normal" fill="#333"  >****</text>
<line x1="440.8" y1="568.4" x2="504" y2="568.4" stroke="#3a3a3a" stroke-width="0.9"/>
<text x="472.4" y="570" font-size="6.8" text-anchor="middle" font-weight="normal" fill="#333"  >**</text>
<text x="0" y="0" font-size="7.3" text-anchor="end" fill="#231f20" transform="translate(445.6,664.5) rotate(-45)">Ctrl</text>
<text x="0" y="0" font-size="7.3" text-anchor="end" fill="#231f20" transform="translate(455.7,664.5) rotate(-45)">0.2 μM</text>
<text x="0" y="0" font-size="7.3" text-anchor="end" fill="#231f20" transform="translate(466.2,664.5) rotate(-45)">2 μM</text>
<text x="0" y="0" font-size="7.3" text-anchor="end" fill="#231f20" transform="translate(476.2,664.5) rotate(-45)">10 μM</text>
<text x="0" y="0" font-size="7.3" text-anchor="end" fill="#231f20" transform="translate(486.5,664.5) rotate(-45)">0.2 μM</text>
<text x="0" y="0" font-size="7.3" text-anchor="end" fill="#231f20" transform="translate(497.3,664.5) rotate(-45)">2 μM</text>
<text x="0" y="0" font-size="7.3" text-anchor="end" fill="#231f20" transform="translate(507.5,664.5) rotate(-45)">10 μM</text>
<line x1="442.5" y1="681.9" x2="473.3" y2="681.9" stroke="#333" stroke-width="1"/>
<text x="459.1" y="690.3" font-size="7.4" text-anchor="middle" font-weight="normal" fill="#231f20"  >RSL3</text>
<line x1="481.6" y1="681.9" x2="511.7" y2="681.9" stroke="#333" stroke-width="1"/>
<text x="497.85" y="690.3" font-size="7.4" text-anchor="middle" font-weight="normal" fill="#231f20"  >ML210</text>
<text x="8.2" y="19" font-size="12.4" text-anchor="start" font-weight="bold" fill="#000"  class="L">A</text>
<text x="8.2" y="193.1" font-size="12.4" text-anchor="start" font-weight="bold" fill="#000"  class="L">B</text>
<text x="8.6" y="364" font-size="12.4" text-anchor="start" font-weight="bold" fill="#000"  class="L">C</text>
<text x="8.4" y="539" font-size="12.4" text-anchor="start" font-weight="bold" fill="#000"  class="L">D</text>
<text x="390.9" y="364" font-size="12.4" text-anchor="start" font-weight="bold" fill="#000"  class="L">E</text>
<text x="390.9" y="539.3" font-size="12.4" text-anchor="start" font-weight="bold" fill="#000"  class="L">F</text>
<rect x="0.5" y="0.5" width="519" height="699" fill="none" stroke="#555" stroke-width="1"/>
</svg></body></html>
